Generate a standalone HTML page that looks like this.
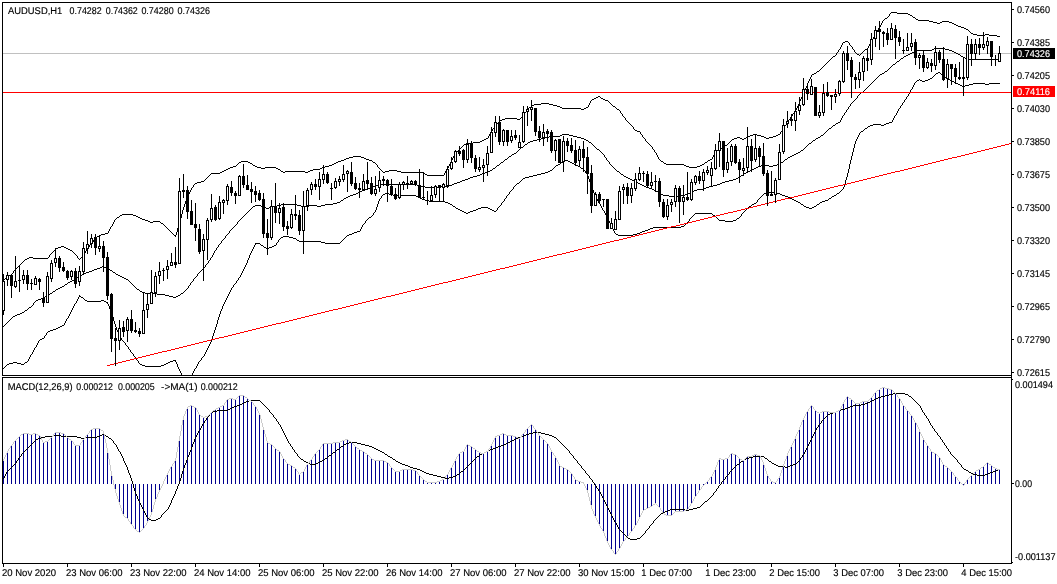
<!DOCTYPE html>
<html><head><meta charset="utf-8"><title>AUDUSD,H1</title>
<style>
html,body{margin:0;padding:0;background:#fff;}
#c{position:relative;width:1057px;height:584px;overflow:hidden;background:#fff;font-family:"Liberation Sans",sans-serif;}
#c svg{position:absolute;left:0;top:0;}
#tx text{font-family:"Liberation Sans",sans-serif;font-size:9.8px;text-rendering:geometricPrecision;fill:#000;white-space:pre;stroke:#000;stroke-width:0.15px;}
#tx text.w{fill:#fff;stroke:#fff;}
</style></head><body>
<div id="c">
<svg width="1057" height="584" viewBox="0 0 1057 584" shape-rendering="crispEdges">
<defs><clipPath id="cm"><rect x="3" y="3" width="1008" height="372"/></clipPath><clipPath id="cd"><rect x="3" y="378" width="1008" height="185"/></clipPath></defs>
<rect x="3" y="53" width="1008" height="1" fill="#c0c0c0"/>
<path d="M891 12.5h6M897 13.5h11M908 14.5h2M910 15.5h2M913 17.5h2M885 18.5h2M916 19.5h2M918 20.5h11M929 21.5h4M942 21.5h7M933 22.5h4M940 22.5h2M949 22.5h3M937 23.5h3M952 23.5h2M954 24.5h2M956 25.5h2M958 26.5h3M961 27.5h3M964 28.5h2M966 29.5h2M971 33.5h2M973 34.5h4M985 34.5h4M977 35.5h8M989 35.5h8M997 36.5h3M845 41.5h3M843 42.5h2M865 49.5h2M857 54.5h2M833 56.5h2M817 71.5h2M814 73.5h2M812 74.5h2M598 96.5h2M596 97.5h2M594 98.5h2M601 98.5h2M592 99.5h2M603 99.5h2M605 100.5h3M541 103.5h8M534 104.5h7M549 104.5h4M532 105.5h2M553 105.5h4M557 106.5h3M613 106.5h2M529 107.5h2M560 107.5h2M586 107.5h2M562 108.5h19M584 108.5h2M581 109.5h3M617 109.5h2M505 118.5h12M502 119.5h3M517 119.5h3M500 120.5h2M635 130.5h2M637 131.5h3M753 134.5h4M778 134.5h2M750 135.5h3M757 135.5h4M776 135.5h2M748 136.5h2M761 136.5h3M773 136.5h3M737 137.5h3M746 137.5h2M764 137.5h2M769 137.5h4M486 138.5h2M734 138.5h3M740 138.5h2M744 138.5h2M766 138.5h3M484 139.5h2M732 139.5h2M742 139.5h2M482 140.5h2M480 141.5h2M473 142.5h7M466 143.5h7M464 144.5h2M725 145.5h2M721 148.5h2M717 150.5h3M715 151.5h2M353 156.5h8M349 157.5h4M361 157.5h3M346 158.5h3M364 158.5h2M344 159.5h2M366 159.5h3M710 159.5h2M341 160.5h3M369 160.5h3M708 160.5h2M241 161.5h7M338 161.5h3M661 161.5h2M239 162.5h2M248 162.5h2M336 162.5h2M373 162.5h2M705 162.5h2M250 163.5h2M334 163.5h2M664 163.5h2M332 164.5h2M666 164.5h18M702 164.5h2M253 165.5h2M329 165.5h3M684 165.5h2M700 165.5h2M233 166.5h3M255 166.5h2M325 166.5h4M686 166.5h3M697 166.5h3M230 167.5h3M257 167.5h4M265 167.5h11M322 167.5h3M689 167.5h8M228 168.5h2M261 168.5h4M276 168.5h2M320 168.5h2M226 169.5h2M278 169.5h2M313 169.5h7M224 170.5h2M310 170.5h3M389 170.5h8M222 171.5h2M281 171.5h2M285 171.5h20M308 171.5h2M385 171.5h4M397 171.5h4M220 172.5h2M283 172.5h2M305 172.5h3M383 172.5h2M401 172.5h23M211 173.5h9M425 174.5h2M427 175.5h17M201 181.5h3M197 182.5h4M195 183.5h2M122 214.5h11M120 215.5h2M133 215.5h3M136 216.5h2M117 217.5h2M138 217.5h2M140 218.5h2M142 219.5h3M145 220.5h3M148 221.5h2M153 221.5h7M150 222.5h3M161 223.5h2M105 233.5h3M101 234.5h4M99 235.5h2M174 235.5h2M97 236.5h2M61 246.5h3M58 247.5h3M64 247.5h2M56 248.5h2M66 248.5h2M68 249.5h2M70 250.5h2M29 257.5h4M27 258.5h2M33 258.5h15M25 259.5h2M9 275.5h2M5 278.5h2M3.5 280v1M4.5 279v1M7.5 277v1M8.5 276v1M11.5 274v1M12.5 273v1M13.5 271v2M14.5 270v1M15.5 269v1M16.5 268v1M17.5 267v1M18.5 266v1M19.5 265v1M20.5 264v1M21.5 263v1M22.5 262v1M23.5 261v1M24.5 260v1M48.5 257v1M49.5 255v2M50.5 254v1M51.5 253v1M52.5 252v1M53.5 251v1M54.5 250v1M55.5 249v1M72.5 251v1M73.5 252v1M74.5 253v1M75.5 254v1M76.5 255v1M77.5 256v2M78.5 258v1M79.5 259v1M80.5 258v1M81.5 257v1M82.5 256v1M83.5 255v1M84.5 253v2M85.5 251v2M86.5 249v2M87.5 248v1M88.5 247v1M89.5 245v2M90.5 244v1M91.5 243v1M92.5 242v1M93.5 240v2M94.5 239v1M95.5 238v1M96.5 237v1M108.5 231v2M109.5 229v2M110.5 227v2M111.5 226v1M112.5 224v2M113.5 222v2M114.5 220v2M115.5 219v1M116.5 218v1M119.5 216v1M160.5 222v1M163.5 224v1M164.5 225v1M165.5 226v1M166.5 227v1M167.5 228v1M168.5 229v1M169.5 230v1M170.5 231v1M171.5 232v1M172.5 233v1M173.5 234v1M175.5 236v1M176.5 232v3M177.5 228v4M178.5 225v3M179.5 222v3M180.5 218v4M181.5 214v4M182.5 210v4M183.5 207v3M184.5 204v3M185.5 201v3M186.5 198v3M187.5 196v2M188.5 194v2M189.5 192v2M190.5 190v2M191.5 188v2M192.5 187v1M193.5 185v2M194.5 184v1M204.5 180v1M205.5 179v1M206.5 178v1M207.5 177v1M208.5 176v1M209.5 175v1M210.5 174v1M236.5 165v1M237.5 164v1M238.5 163v1M252.5 164v1M280.5 170v1M372.5 161v1M375.5 163v1M376.5 164v1M377.5 165v2M378.5 167v1M379.5 168v1M380.5 169v1M381.5 170v1M382.5 171v1M424.5 173v1M444.5 173v2M445.5 171v2M446.5 169v2M447.5 168v1M448.5 166v2M449.5 164v2M450.5 162v2M451.5 160v2M452.5 158v2M453.5 156v2M454.5 154v2M455.5 153v1M456.5 152v1M457.5 151v1M458.5 150v1M459.5 149v1M460.5 148v1M461.5 147v1M462.5 146v1M463.5 145v1M488.5 136v2M489.5 134v2M490.5 132v2M491.5 131v1M492.5 129v2M493.5 128v1M494.5 126v2M495.5 125v1M496.5 124v1M497.5 123v1M498.5 122v1M499.5 121v1M520.5 118v1M521.5 117v1M522.5 116v1M523.5 115v1M524.5 113v2M525.5 112v1M526.5 110v2M527.5 109v1M528.5 108v1M531.5 106v1M588.5 105v2M589.5 103v2M590.5 101v2M591.5 100v1M600.5 97v1M608.5 101v1M609.5 102v1M610.5 103v1M611.5 104v1M612.5 105v1M615.5 107v1M616.5 108v1M619.5 110v1M620.5 111v2M621.5 113v1M622.5 114v2M623.5 116v1M624.5 117v1M625.5 118v2M626.5 120v1M627.5 121v1M628.5 122v1M629.5 123v1M630.5 124v1M631.5 125v1M632.5 126v1M633.5 127v2M634.5 129v1M640.5 132v2M641.5 134v1M642.5 135v2M643.5 137v1M644.5 138v1M645.5 139v2M646.5 141v1M647.5 142v1M648.5 143v1M649.5 144v1M650.5 145v1M651.5 146v1M652.5 147v2M653.5 149v1M654.5 150v2M655.5 152v1M656.5 153v2M657.5 155v2M658.5 157v2M659.5 159v1M660.5 160v1M663.5 162v1M704.5 163v1M707.5 161v1M712.5 157v2M713.5 155v2M714.5 153v2M715.5 152v1M720.5 149v1M723.5 147v1M724.5 146v1M727.5 144v1M728.5 143v1M729.5 142v1M730.5 141v1M731.5 140v1M780.5 132v2M781.5 131v1M782.5 129v2M783.5 128v1M784.5 126v2M785.5 125v1M786.5 123v2M787.5 122v1M788.5 120v2M789.5 119v1M790.5 117v2M791.5 116v1M792.5 114v2M793.5 113v1M794.5 111v2M795.5 110v1M796.5 108v2M797.5 106v2M798.5 104v2M799.5 101v3M800.5 99v2M801.5 97v2M802.5 95v2M803.5 92v3M804.5 90v2M805.5 88v2M806.5 86v2M807.5 83v3M808.5 81v2M809.5 79v2M810.5 77v2M811.5 75v2M816.5 72v1M819.5 70v1M820.5 69v1M821.5 68v1M822.5 67v1M823.5 66v1M824.5 65v1M825.5 64v1M826.5 63v1M827.5 62v1M828.5 61v1M829.5 60v1M830.5 59v1M831.5 58v1M832.5 57v1M835.5 55v1M836.5 53v2M837.5 52v1M838.5 50v2M839.5 49v1M840.5 47v2M841.5 45v2M842.5 43v2M848.5 42v1M849.5 43v2M850.5 45v1M851.5 46v1M852.5 47v2M853.5 49v1M854.5 50v2M855.5 52v1M856.5 53v1M859.5 55v1M860.5 54v1M861.5 53v1M862.5 52v1M863.5 51v1M864.5 50v1M867.5 48v1M868.5 46v2M869.5 44v2M870.5 42v2M871.5 41v1M872.5 39v2M873.5 37v2M874.5 35v2M875.5 34v1M876.5 32v2M877.5 30v2M878.5 28v2M879.5 27v1M880.5 25v2M881.5 23v2M882.5 21v2M883.5 20v1M884.5 19v1M887.5 17v1M888.5 16v1M889.5 14v2M890.5 13v1M912.5 16v1M915.5 18v1M968.5 30v1M969.5 31v1M970.5 32v1" stroke="#000" stroke-width="1" fill="none"/>
<path d="M934 48.5h11M932 49.5h2M945 49.5h4M917 50.5h15M949 50.5h3M914 51.5h3M952 51.5h2M912 52.5h2M954 52.5h2M910 53.5h2M956 53.5h2M908 54.5h2M958 54.5h2M906 55.5h2M904 56.5h2M961 56.5h2M963 57.5h2M901 58.5h2M965 58.5h4M969 59.5h31M897 61.5h2M893 64.5h2M885 71.5h2M882 73.5h2M880 74.5h2M861 92.5h2M838 122.5h2M836 123.5h2M833 125.5h2M829 128.5h2M562 134.5h7M560 135.5h2M569 135.5h4M821 135.5h2M549 136.5h11M573 136.5h4M545 137.5h4M577 137.5h4M818 137.5h2M541 138.5h4M581 138.5h3M816 138.5h2M537 139.5h4M584 139.5h2M533 140.5h4M586 140.5h2M813 140.5h2M530 141.5h3M528 142.5h2M589 142.5h2M809 143.5h2M525 144.5h2M521 147.5h2M597 149.5h2M801 150.5h2M798 152.5h2M514 153.5h2M796 153.5h2M512 154.5h2M794 154.5h2M792 155.5h2M509 156.5h2M790 156.5h2M788 157.5h2M505 159.5h2M785 159.5h2M501 162.5h2M781 162.5h2M777 164.5h3M497 165.5h2M761 165.5h8M773 165.5h4M758 166.5h3M769 166.5h4M756 167.5h2M493 168.5h2M754 168.5h2M752 169.5h2M490 170.5h2M750 170.5h2M488 171.5h2M617 171.5h2M748 171.5h2M485 172.5h3M746 172.5h2M482 173.5h3M744 173.5h2M480 174.5h2M621 174.5h2M477 175.5h3M741 175.5h2M473 176.5h4M624 176.5h2M470 177.5h3M626 177.5h2M738 177.5h2M468 178.5h2M628 178.5h2M736 178.5h2M465 179.5h3M630 179.5h2M733 179.5h3M462 180.5h3M632 180.5h2M729 180.5h4M460 181.5h2M634 181.5h2M725 181.5h4M457 182.5h3M636 182.5h2M722 182.5h3M454 183.5h3M638 183.5h2M720 183.5h2M378 184.5h39M452 184.5h2M640 184.5h2M717 184.5h3M376 185.5h2M417 185.5h4M449 185.5h3M642 185.5h2M713 185.5h4M373 186.5h3M421 186.5h4M441 186.5h8M644 186.5h2M709 186.5h4M370 187.5h3M425 187.5h16M646 187.5h3M706 187.5h3M368 188.5h2M649 188.5h3M704 188.5h2M365 189.5h3M652 189.5h2M697 189.5h7M362 190.5h3M654 190.5h2M694 190.5h3M360 191.5h2M656 191.5h2M692 191.5h2M358 192.5h2M658 192.5h2M690 192.5h2M356 193.5h2M688 193.5h2M353 194.5h3M661 194.5h2M685 194.5h3M350 195.5h3M663 195.5h6M681 195.5h4M348 196.5h2M669 196.5h12M346 197.5h2M344 198.5h2M341 200.5h2M337 202.5h3M333 203.5h4M281 204.5h16M325 204.5h8M255 205.5h6M277 205.5h4M297 205.5h4M309 205.5h8M321 205.5h4M253 206.5h2M261 206.5h3M273 206.5h4M301 206.5h8M317 206.5h4M264 207.5h2M269 207.5h4M266 208.5h3M102 266.5h2M100 267.5h2M104 267.5h2M97 268.5h3M106 268.5h2M94 269.5h3M108 269.5h2M92 270.5h2M110 270.5h2M89 271.5h3M86 272.5h3M113 272.5h2M84 273.5h2M82 274.5h2M116 274.5h2M80 275.5h2M118 275.5h2M120 276.5h2M77 277.5h2M122 277.5h2M124 278.5h2M74 279.5h2M126 279.5h2M72 280.5h2M70 281.5h2M68 282.5h2M65 284.5h2M62 286.5h2M60 287.5h2M58 288.5h2M56 289.5h2M137 289.5h2M53 291.5h2M140 291.5h2M142 292.5h3M50 293.5h2M145 293.5h12M181 293.5h2M48 294.5h2M157 294.5h8M165 295.5h4M178 295.5h2M45 296.5h2M169 296.5h4M176 296.5h2M173 297.5h3M41 298.5h3M38 299.5h3M36 300.5h2M29 307.5h2M25 310.5h2M22 312.5h2M20 313.5h2M17 314.5h3M15 315.5h2M13 316.5h2M3.5 326v1M4.5 325v1M5.5 324v1M6.5 323v1M7.5 322v1M8.5 321v1M9.5 320v1M10.5 319v1M11.5 318v1M12.5 317v1M24.5 311v1M27.5 309v1M28.5 308v1M31.5 306v1M32.5 305v1M33.5 303v2M34.5 302v1M35.5 301v1M44.5 297v1M47.5 295v1M52.5 292v1M55.5 290v1M64.5 285v1M67.5 283v1M76.5 278v1M79.5 276v1M112.5 271v1M115.5 273v1M128.5 280v1M129.5 281v1M130.5 282v1M131.5 283v1M132.5 284v1M133.5 285v1M134.5 286v1M135.5 287v1M136.5 288v1M139.5 290v1M180.5 294v1M183.5 292v1M184.5 291v1M185.5 290v1M186.5 289v1M187.5 288v1M188.5 286v2M189.5 285v1M190.5 283v2M191.5 282v1M192.5 281v1M193.5 279v2M194.5 278v1M195.5 277v1M196.5 276v1M197.5 274v2M198.5 273v1M199.5 272v1M200.5 271v1M201.5 270v1M202.5 269v1M203.5 268v1M204.5 267v1M205.5 265v2M206.5 264v1M207.5 263v1M208.5 261v2M209.5 260v1M210.5 258v2M211.5 257v1M212.5 255v2M213.5 253v2M214.5 251v2M215.5 250v1M216.5 248v2M217.5 247v1M218.5 245v2M219.5 244v1M220.5 243v1M221.5 241v2M222.5 240v1M223.5 239v1M224.5 238v1M225.5 236v2M226.5 235v1M227.5 234v1M228.5 233v1M229.5 231v2M230.5 230v1M231.5 229v1M232.5 228v1M233.5 227v1M234.5 226v1M235.5 225v1M236.5 224v1M237.5 222v2M238.5 221v1M239.5 220v1M240.5 219v1M241.5 218v1M242.5 217v1M243.5 216v1M244.5 215v1M245.5 214v1M246.5 213v1M247.5 212v1M248.5 211v1M249.5 210v1M250.5 209v1M251.5 208v1M252.5 207v1M340.5 201v1M343.5 199v1M492.5 169v1M495.5 167v1M496.5 166v1M499.5 164v1M500.5 163v1M503.5 161v1M504.5 160v1M507.5 158v1M508.5 157v1M511.5 155v1M516.5 152v1M517.5 151v1M518.5 150v1M519.5 149v1M520.5 148v1M523.5 146v1M524.5 145v1M527.5 143v1M588.5 141v1M591.5 143v1M592.5 144v1M593.5 145v1M594.5 146v1M595.5 147v1M596.5 148v1M599.5 150v1M600.5 151v1M601.5 152v1M602.5 153v1M603.5 154v1M604.5 155v2M605.5 157v1M606.5 158v2M607.5 160v1M608.5 161v1M609.5 162v2M610.5 164v1M611.5 165v1M612.5 166v1M613.5 167v1M614.5 168v1M615.5 169v1M616.5 170v1M619.5 172v1M620.5 173v1M623.5 175v1M660.5 193v1M740.5 176v1M743.5 174v1M780.5 163v1M783.5 161v1M784.5 160v1M787.5 158v1M800.5 151v1M803.5 149v1M804.5 148v1M805.5 147v1M806.5 146v1M807.5 145v1M808.5 144v1M811.5 142v1M812.5 141v1M815.5 139v1M820.5 136v1M823.5 134v1M824.5 133v1M825.5 132v1M826.5 131v1M827.5 130v1M828.5 129v1M831.5 127v1M832.5 126v1M835.5 124v1M840.5 120v2M841.5 118v2M842.5 116v2M843.5 115v1M844.5 113v2M845.5 112v1M846.5 110v2M847.5 109v1M848.5 107v2M849.5 106v1M850.5 104v2M851.5 103v1M852.5 102v1M853.5 101v1M854.5 100v1M855.5 99v1M856.5 98v1M857.5 96v2M858.5 95v1M859.5 94v1M860.5 93v1M863.5 91v1M864.5 90v1M865.5 89v1M866.5 88v1M867.5 87v1M868.5 86v1M869.5 85v1M870.5 84v1M871.5 83v1M872.5 82v1M873.5 81v1M874.5 80v1M875.5 79v1M876.5 78v1M877.5 77v1M878.5 76v1M879.5 75v1M884.5 72v1M887.5 70v1M888.5 69v1M889.5 68v1M890.5 67v1M891.5 66v1M892.5 65v1M895.5 63v1M896.5 62v1M899.5 60v1M900.5 59v1M903.5 57v1M960.5 55v1" stroke="#000" stroke-width="1" fill="none"/>
<path d="M938 72.5h2M936 73.5h2M944 77.5h2M930 78.5h2M946 78.5h2M928 79.5h2M948 79.5h2M917 80.5h2M920 80.5h2M925 80.5h3M950 80.5h2M922 81.5h3M952 81.5h2M954 82.5h2M956 83.5h2M973 83.5h12M989 83.5h11M958 84.5h2M969 84.5h4M985 84.5h4M960 85.5h2M965 85.5h4M962 86.5h3M889 122.5h3M886 123.5h3M873 124.5h8M884 124.5h2M870 125.5h3M881 125.5h3M868 126.5h2M865 128.5h2M861 131.5h2M565 160.5h3M563 161.5h2M568 161.5h2M561 162.5h2M570 162.5h2M572 163.5h2M558 164.5h2M574 164.5h2M556 165.5h2M576 165.5h2M578 166.5h2M581 168.5h2M550 170.5h2M548 171.5h2M545 172.5h3M541 173.5h4M537 174.5h4M533 175.5h4M529 176.5h4M525 177.5h4M523 178.5h2M517 183.5h2M766 192.5h11M385 193.5h4M764 193.5h2M777 193.5h3M837 193.5h2M383 194.5h2M389 194.5h4M780 194.5h2M393 195.5h23M782 195.5h3M834 195.5h2M416 196.5h2M785 196.5h3M832 196.5h2M418 197.5h2M788 197.5h2M420 198.5h2M790 198.5h2M829 198.5h2M422 199.5h3M792 199.5h2M425 200.5h4M794 200.5h2M825 200.5h3M429 201.5h16M796 201.5h2M822 201.5h3M445 202.5h3M798 202.5h2M820 202.5h2M448 203.5h2M754 203.5h2M450 204.5h2M752 204.5h2M801 204.5h2M817 204.5h2M453 206.5h2M749 206.5h2M804 206.5h2M814 206.5h2M481 207.5h7M806 207.5h3M812 207.5h2M456 208.5h2M478 208.5h3M488 208.5h2M809 208.5h3M458 209.5h2M476 209.5h2M490 209.5h2M460 210.5h2M473 210.5h3M492 210.5h2M462 211.5h2M470 211.5h3M494 211.5h2M464 212.5h2M468 212.5h2M466 213.5h2M695 213.5h17M713 215.5h2M369 217.5h2M737 218.5h2M719 220.5h6M733 220.5h3M725 221.5h8M681 226.5h3M653 227.5h28M650 228.5h3M648 229.5h2M645 230.5h3M357 231.5h3M642 231.5h3M354 232.5h3M640 232.5h2M352 233.5h2M637 233.5h3M349 234.5h3M616 234.5h2M633 234.5h4M347 235.5h2M618 235.5h15M283 236.5h6M281 237.5h2M289 237.5h4M293 238.5h3M297 240.5h2M299 241.5h22M321 242.5h4M255 243.5h5M325 243.5h15M261 245.5h2M274 245.5h2M272 246.5h2M264 247.5h2M269 247.5h3M266 248.5h3M79 296.5h2M81 297.5h2M85 300.5h2M101 300.5h3M87 301.5h14M104 301.5h2M106 302.5h2M62 325.5h2M60 326.5h2M58 327.5h2M56 328.5h2M53 329.5h3M50 330.5h3M48 331.5h2M42 338.5h2M40 339.5h2M173 360.5h3M170 361.5h3M13 362.5h4M25 362.5h2M168 362.5h2M9 363.5h4M17 363.5h4M166 363.5h2M7 364.5h2M21 364.5h3M140 364.5h2M164 364.5h2M142 365.5h3M161 365.5h3M145 366.5h16M3.5 368v1M4.5 367v1M5.5 366v1M6.5 365v1M24.5 363v1M27.5 361v1M28.5 359v2M29.5 357v2M30.5 355v2M31.5 354v1M32.5 352v2M33.5 350v2M34.5 348v2M35.5 347v1M36.5 345v2M37.5 343v2M38.5 341v2M39.5 340v1M44.5 336v2M45.5 335v1M46.5 333v2M47.5 332v1M64.5 323v2M65.5 321v2M66.5 319v2M67.5 318v1M68.5 316v2M69.5 314v2M70.5 312v2M71.5 310v2M72.5 308v2M73.5 306v2M74.5 304v2M75.5 303v1M76.5 301v2M77.5 299v2M78.5 297v2M79.5 295v1M83.5 298v1M84.5 299v1M107.5 303v1M108.5 304v2M109.5 306v3M110.5 309v2M111.5 311v3M112.5 314v3M113.5 317v4M114.5 321v3M115.5 324v3M116.5 327v3M117.5 330v2M118.5 332v3M119.5 335v2M120.5 337v1M121.5 338v2M122.5 340v1M123.5 341v1M124.5 342v1M125.5 343v2M126.5 345v1M127.5 346v1M128.5 347v2M129.5 349v1M130.5 350v2M131.5 352v1M132.5 353v1M133.5 354v2M134.5 356v1M135.5 357v1M136.5 358v2M137.5 360v1M138.5 361v2M139.5 363v1M175.5 361v1M176.5 362v2M177.5 364v3M178.5 367v2M179.5 369v2M180.5 371v2M181.5 373v2M192.5 373v2M193.5 371v2M194.5 369v2M195.5 368v1M196.5 366v2M197.5 364v2M198.5 362v2M199.5 361v1M200.5 360v1M201.5 358v2M202.5 357v1M203.5 356v1M204.5 354v2M205.5 352v2M206.5 350v2M207.5 348v2M208.5 346v2M209.5 344v2M210.5 342v2M211.5 339v3M212.5 336v3M213.5 333v3M214.5 330v3M215.5 327v3M216.5 324v3M217.5 320v4M218.5 317v3M219.5 314v3M220.5 311v3M221.5 309v2M222.5 306v3M223.5 304v2M224.5 302v2M225.5 300v2M226.5 298v2M227.5 296v2M228.5 294v2M229.5 292v2M230.5 290v2M231.5 288v2M232.5 287v1M233.5 285v2M234.5 284v1M235.5 283v1M236.5 281v2M237.5 280v1M238.5 278v2M239.5 277v1M240.5 275v2M241.5 273v2M242.5 271v2M243.5 269v2M244.5 267v2M245.5 265v2M246.5 263v2M247.5 260v3M248.5 258v2M249.5 255v3M250.5 253v2M251.5 251v2M252.5 249v2M253.5 247v2M254.5 245v2M255.5 244v1M260.5 244v1M263.5 246v1M276.5 243v2M277.5 242v1M278.5 240v2M279.5 239v1M280.5 238v1M296.5 239v1M340.5 242v1M341.5 241v1M342.5 240v1M343.5 239v1M344.5 238v1M345.5 237v1M346.5 236v1M360.5 229v2M361.5 227v2M362.5 225v2M363.5 224v1M364.5 223v1M365.5 221v2M366.5 220v1M367.5 219v1M368.5 218v1M371.5 216v1M372.5 215v1M373.5 213v2M374.5 212v1M375.5 210v2M376.5 207v3M377.5 204v3M378.5 201v3M379.5 199v2M380.5 198v1M381.5 196v2M382.5 195v1M452.5 205v1M455.5 207v1M496.5 210v1M497.5 208v2M498.5 207v1M499.5 206v1M500.5 205v1M501.5 203v2M502.5 202v1M503.5 201v1M504.5 199v2M505.5 198v1M506.5 196v2M507.5 195v1M508.5 194v1M509.5 192v2M510.5 191v1M511.5 190v1M512.5 189v1M513.5 187v2M514.5 186v1M515.5 185v1M516.5 184v1M519.5 182v1M520.5 181v1M521.5 180v1M522.5 179v1M552.5 169v1M553.5 168v1M554.5 167v1M555.5 166v1M560.5 163v1M580.5 167v1M583.5 169v1M584.5 170v1M585.5 171v2M586.5 173v1M587.5 174v2M588.5 176v3M589.5 179v3M590.5 182v3M591.5 185v3M592.5 188v2M593.5 190v3M594.5 193v2M595.5 195v2M596.5 197v2M597.5 199v2M598.5 201v2M599.5 203v1M600.5 204v2M601.5 206v2M602.5 208v2M603.5 210v1M604.5 211v2M605.5 213v2M606.5 215v2M607.5 217v2M608.5 219v2M609.5 221v2M610.5 223v2M611.5 225v2M612.5 227v2M613.5 229v2M614.5 231v2M615.5 233v1M684.5 225v1M685.5 224v1M686.5 223v1M687.5 222v1M688.5 221v1M689.5 219v2M690.5 218v1M691.5 217v1M692.5 216v1M693.5 215v1M694.5 214v1M712.5 214v1M715.5 216v1M716.5 217v1M717.5 218v1M718.5 219v1M736.5 219v1M739.5 217v1M740.5 216v1M741.5 214v2M742.5 213v1M743.5 212v1M744.5 211v1M745.5 210v1M746.5 209v1M747.5 208v1M748.5 207v1M751.5 205v1M756.5 202v1M757.5 200v2M758.5 199v1M759.5 198v1M760.5 197v1M761.5 196v1M762.5 195v1M763.5 194v1M800.5 203v1M803.5 205v1M816.5 205v1M819.5 203v1M828.5 199v1M831.5 197v1M836.5 194v1M839.5 192v1M840.5 191v1M841.5 190v1M842.5 189v1M843.5 187v2M844.5 184v3M845.5 180v4M846.5 177v3M847.5 173v4M848.5 169v4M849.5 164v5M850.5 160v4M851.5 156v4M852.5 152v4M853.5 148v4M854.5 144v4M855.5 141v3M856.5 139v2M857.5 137v2M858.5 135v2M859.5 133v2M860.5 132v1M863.5 130v1M864.5 129v1M867.5 127v1M892.5 120v2M893.5 118v2M894.5 116v2M895.5 115v1M896.5 113v2M897.5 111v2M898.5 109v2M899.5 108v1M900.5 106v2M901.5 105v1M902.5 103v2M903.5 102v1M904.5 100v2M905.5 99v1M906.5 97v2M907.5 96v1M908.5 94v2M909.5 92v2M910.5 90v2M911.5 89v1M912.5 87v2M913.5 85v2M914.5 83v2M915.5 82v1M916.5 81v1M919.5 79v1M932.5 77v1M933.5 76v1M934.5 75v1M935.5 74v1M940.5 73v1M941.5 74v1M942.5 75v1M943.5 76v1" stroke="#000" stroke-width="1" fill="none"/>
<rect x="3" y="92" width="1008" height="1" fill="#ff0000"/>
<path d="M1009 143.5h2M1005 144.5h4M1001 145.5h4M997 146.5h4M993 147.5h4M989 148.5h4M985 149.5h4M981 150.5h4M977 151.5h4M973 152.5h4M969 153.5h4M965 154.5h4M961 155.5h4M957 156.5h4M952 157.5h5M948 158.5h4M944 159.5h4M940 160.5h4M936 161.5h4M932 162.5h4M928 163.5h4M924 164.5h4M920 165.5h4M916 166.5h4M912 167.5h4M908 168.5h4M904 169.5h4M900 170.5h4M895 171.5h5M891 172.5h4M887 173.5h4M883 174.5h4M879 175.5h4M875 176.5h4M871 177.5h4M867 178.5h4M863 179.5h4M859 180.5h4M855 181.5h4M851 182.5h4M847 183.5h4M843 184.5h4M838 185.5h5M834 186.5h4M830 187.5h4M826 188.5h4M822 189.5h4M818 190.5h4M814 191.5h4M810 192.5h4M806 193.5h4M802 194.5h4M798 195.5h4M794 196.5h4M790 197.5h4M785 198.5h5M781 199.5h4M777 200.5h4M773 201.5h4M769 202.5h4M765 203.5h4M761 204.5h4M757 205.5h4M753 206.5h4M749 207.5h4M745 208.5h4M741 209.5h4M737 210.5h4M733 211.5h4M728 212.5h5M724 213.5h4M720 214.5h4M716 215.5h4M712 216.5h4M708 217.5h4M704 218.5h4M700 219.5h4M696 220.5h4M692 221.5h4M688 222.5h4M684 223.5h4M680 224.5h4M676 225.5h4M671 226.5h5M667 227.5h4M663 228.5h4M659 229.5h4M655 230.5h4M651 231.5h4M647 232.5h4M643 233.5h4M639 234.5h4M635 235.5h4M631 236.5h4M627 237.5h4M623 238.5h4M619 239.5h4M614 240.5h5M610 241.5h4M606 242.5h4M602 243.5h4M598 244.5h4M594 245.5h4M590 246.5h4M586 247.5h4M582 248.5h4M578 249.5h4M574 250.5h4M570 251.5h4M566 252.5h4M562 253.5h4M557 254.5h5M553 255.5h4M549 256.5h4M545 257.5h4M541 258.5h4M537 259.5h4M533 260.5h4M529 261.5h4M525 262.5h4M521 263.5h4M517 264.5h4M513 265.5h4M509 266.5h4M505 267.5h4M500 268.5h5M496 269.5h4M492 270.5h4M488 271.5h4M484 272.5h4M480 273.5h4M476 274.5h4M472 275.5h4M468 276.5h4M464 277.5h4M460 278.5h4M456 279.5h4M452 280.5h4M448 281.5h4M443 282.5h5M439 283.5h4M435 284.5h4M431 285.5h4M427 286.5h4M423 287.5h4M419 288.5h4M415 289.5h4M411 290.5h4M407 291.5h4M403 292.5h4M399 293.5h4M395 294.5h4M391 295.5h4M386 296.5h5M382 297.5h4M378 298.5h4M374 299.5h4M370 300.5h4M366 301.5h4M362 302.5h4M358 303.5h4M354 304.5h4M350 305.5h4M346 306.5h4M342 307.5h4M338 308.5h4M333 309.5h5M329 310.5h4M325 311.5h4M321 312.5h4M317 313.5h4M313 314.5h4M309 315.5h4M305 316.5h4M301 317.5h4M297 318.5h4M293 319.5h4M289 320.5h4M285 321.5h4M281 322.5h4M276 323.5h5M272 324.5h4M268 325.5h4M264 326.5h4M260 327.5h4M256 328.5h4M252 329.5h4M248 330.5h4M244 331.5h4M240 332.5h4M236 333.5h4M232 334.5h4M228 335.5h4M224 336.5h4M219 337.5h5M215 338.5h4M211 339.5h4M207 340.5h4M203 341.5h4M199 342.5h4M195 343.5h4M191 344.5h4M187 345.5h4M183 346.5h4M179 347.5h4M175 348.5h4M171 349.5h4M167 350.5h4M162 351.5h5M158 352.5h4M154 353.5h4M150 354.5h4M146 355.5h4M142 356.5h4M138 357.5h4M134 358.5h4M130 359.5h4M126 360.5h4M122 361.5h4M118 362.5h4M114 363.5h4M110 364.5h4M107 365.5h3" stroke="#ff0000" stroke-width="1" fill="none"/>
<rect x="3" y="274" width="1" height="41" fill="#000"/>
<rect x="2" y="281" width="3" height="30" fill="#000"/>
<rect x="3" y="282" width="1" height="28" fill="#fff"/>
<rect x="7" y="272" width="1" height="14" fill="#000"/>
<rect x="6" y="275" width="3" height="5" fill="#000"/>
<rect x="7" y="276" width="1" height="3" fill="#fff"/>
<rect x="11" y="274" width="1" height="24" fill="#000"/>
<rect x="10" y="275" width="3" height="11" fill="#000"/>
<rect x="15" y="256" width="1" height="32" fill="#000"/>
<rect x="14" y="281" width="3" height="6" fill="#000"/>
<rect x="15" y="282" width="1" height="4" fill="#fff"/>
<rect x="19" y="265" width="1" height="27" fill="#000"/>
<rect x="18" y="280" width="3" height="1" fill="#000"/>
<rect x="23" y="270" width="1" height="14" fill="#000"/>
<rect x="22" y="275" width="3" height="5" fill="#000"/>
<rect x="23" y="276" width="1" height="3" fill="#fff"/>
<rect x="27" y="270" width="1" height="20" fill="#000"/>
<rect x="26" y="275" width="3" height="9" fill="#000"/>
<rect x="31" y="279" width="1" height="11" fill="#000"/>
<rect x="30" y="283" width="3" height="1" fill="#000"/>
<rect x="35" y="276" width="1" height="9" fill="#000"/>
<rect x="34" y="278" width="3" height="7" fill="#000"/>
<rect x="35" y="279" width="1" height="5" fill="#fff"/>
<rect x="39" y="278" width="1" height="12" fill="#000"/>
<rect x="38" y="279" width="3" height="3" fill="#000"/>
<rect x="43" y="292" width="1" height="15" fill="#000"/>
<rect x="42" y="298" width="3" height="5" fill="#000"/>
<rect x="47" y="272" width="1" height="31" fill="#000"/>
<rect x="46" y="276" width="3" height="27" fill="#000"/>
<rect x="47" y="277" width="1" height="25" fill="#fff"/>
<rect x="51" y="260" width="1" height="22" fill="#000"/>
<rect x="50" y="263" width="3" height="16" fill="#000"/>
<rect x="51" y="264" width="1" height="14" fill="#fff"/>
<rect x="55" y="248" width="1" height="19" fill="#000"/>
<rect x="54" y="258" width="3" height="5" fill="#000"/>
<rect x="55" y="259" width="1" height="3" fill="#fff"/>
<rect x="59" y="256" width="1" height="16" fill="#000"/>
<rect x="58" y="258" width="3" height="10" fill="#000"/>
<rect x="63" y="262" width="1" height="10" fill="#000"/>
<rect x="62" y="267" width="3" height="4" fill="#000"/>
<rect x="67" y="270" width="1" height="10" fill="#000"/>
<rect x="66" y="271" width="3" height="7" fill="#000"/>
<rect x="71" y="270" width="1" height="10" fill="#000"/>
<rect x="70" y="271" width="3" height="6" fill="#000"/>
<rect x="71" y="272" width="1" height="4" fill="#fff"/>
<rect x="75" y="268" width="1" height="20" fill="#000"/>
<rect x="74" y="271" width="3" height="13" fill="#000"/>
<rect x="79" y="266" width="1" height="20" fill="#000"/>
<rect x="78" y="271" width="3" height="11" fill="#000"/>
<rect x="79" y="272" width="1" height="9" fill="#fff"/>
<rect x="83" y="242" width="1" height="32" fill="#000"/>
<rect x="82" y="248" width="3" height="24" fill="#000"/>
<rect x="83" y="249" width="1" height="22" fill="#fff"/>
<rect x="87" y="231" width="1" height="23" fill="#000"/>
<rect x="86" y="244" width="3" height="5" fill="#000"/>
<rect x="87" y="245" width="1" height="3" fill="#fff"/>
<rect x="91" y="234" width="1" height="14" fill="#000"/>
<rect x="90" y="238" width="3" height="6" fill="#000"/>
<rect x="91" y="239" width="1" height="4" fill="#fff"/>
<rect x="95" y="234" width="1" height="21" fill="#000"/>
<rect x="94" y="237" width="3" height="11" fill="#000"/>
<rect x="99" y="236" width="1" height="16" fill="#000"/>
<rect x="98" y="246" width="3" height="3" fill="#000"/>
<rect x="99" y="247" width="1" height="1" fill="#fff"/>
<rect x="103" y="241" width="1" height="31" fill="#000"/>
<rect x="102" y="246" width="3" height="12" fill="#000"/>
<rect x="107" y="252" width="1" height="48" fill="#000"/>
<rect x="106" y="257" width="3" height="39" fill="#000"/>
<rect x="111" y="293" width="1" height="59" fill="#000"/>
<rect x="110" y="294" width="3" height="45" fill="#000"/>
<rect x="115" y="328" width="1" height="38" fill="#000"/>
<rect x="114" y="338" width="3" height="3" fill="#000"/>
<rect x="119" y="320" width="1" height="30" fill="#000"/>
<rect x="118" y="328" width="3" height="13" fill="#000"/>
<rect x="119" y="329" width="1" height="11" fill="#fff"/>
<rect x="123" y="321" width="1" height="16" fill="#000"/>
<rect x="122" y="327" width="3" height="5" fill="#000"/>
<rect x="127" y="317" width="1" height="25" fill="#000"/>
<rect x="126" y="319" width="3" height="12" fill="#000"/>
<rect x="127" y="320" width="1" height="10" fill="#fff"/>
<rect x="131" y="310" width="1" height="23" fill="#000"/>
<rect x="130" y="319" width="3" height="12" fill="#000"/>
<rect x="135" y="322" width="1" height="11" fill="#000"/>
<rect x="134" y="330" width="3" height="2" fill="#000"/>
<rect x="139" y="328" width="1" height="9" fill="#000"/>
<rect x="138" y="331" width="3" height="3" fill="#000"/>
<rect x="143" y="292" width="1" height="42" fill="#000"/>
<rect x="142" y="310" width="3" height="24" fill="#000"/>
<rect x="143" y="311" width="1" height="22" fill="#fff"/>
<rect x="147" y="293" width="1" height="25" fill="#000"/>
<rect x="146" y="304" width="3" height="6" fill="#000"/>
<rect x="147" y="305" width="1" height="4" fill="#fff"/>
<rect x="151" y="270" width="1" height="34" fill="#000"/>
<rect x="150" y="292" width="3" height="12" fill="#000"/>
<rect x="151" y="293" width="1" height="10" fill="#fff"/>
<rect x="155" y="272" width="1" height="25" fill="#000"/>
<rect x="154" y="276" width="3" height="17" fill="#000"/>
<rect x="155" y="277" width="1" height="15" fill="#fff"/>
<rect x="159" y="262" width="1" height="22" fill="#000"/>
<rect x="158" y="271" width="3" height="5" fill="#000"/>
<rect x="159" y="272" width="1" height="3" fill="#fff"/>
<rect x="163" y="268" width="1" height="13" fill="#000"/>
<rect x="162" y="270" width="3" height="1" fill="#000"/>
<rect x="167" y="260" width="1" height="19" fill="#000"/>
<rect x="166" y="266" width="3" height="4" fill="#000"/>
<rect x="167" y="267" width="1" height="2" fill="#fff"/>
<rect x="171" y="253" width="1" height="13" fill="#000"/>
<rect x="170" y="262" width="3" height="4" fill="#000"/>
<rect x="171" y="263" width="1" height="2" fill="#fff"/>
<rect x="175" y="247" width="1" height="21" fill="#000"/>
<rect x="174" y="262" width="3" height="3" fill="#000"/>
<rect x="179" y="178" width="1" height="86" fill="#000"/>
<rect x="178" y="191" width="3" height="73" fill="#000"/>
<rect x="179" y="192" width="1" height="71" fill="#fff"/>
<rect x="183" y="174" width="1" height="24" fill="#000"/>
<rect x="182" y="190" width="3" height="2" fill="#000"/>
<rect x="187" y="186" width="1" height="33" fill="#000"/>
<rect x="186" y="190" width="3" height="22" fill="#000"/>
<rect x="191" y="200" width="1" height="25" fill="#000"/>
<rect x="190" y="211" width="3" height="14" fill="#000"/>
<rect x="195" y="203" width="1" height="38" fill="#000"/>
<rect x="194" y="224" width="3" height="4" fill="#000"/>
<rect x="199" y="224" width="1" height="30" fill="#000"/>
<rect x="198" y="229" width="3" height="23" fill="#000"/>
<rect x="203" y="234" width="1" height="47" fill="#000"/>
<rect x="202" y="239" width="3" height="12" fill="#000"/>
<rect x="203" y="240" width="1" height="10" fill="#fff"/>
<rect x="207" y="218" width="1" height="42" fill="#000"/>
<rect x="206" y="220" width="3" height="20" fill="#000"/>
<rect x="207" y="221" width="1" height="18" fill="#fff"/>
<rect x="211" y="194" width="1" height="28" fill="#000"/>
<rect x="210" y="208" width="3" height="12" fill="#000"/>
<rect x="211" y="209" width="1" height="10" fill="#fff"/>
<rect x="215" y="205" width="1" height="16" fill="#000"/>
<rect x="214" y="207" width="3" height="13" fill="#000"/>
<rect x="219" y="196" width="1" height="24" fill="#000"/>
<rect x="218" y="202" width="3" height="17" fill="#000"/>
<rect x="219" y="203" width="1" height="15" fill="#fff"/>
<rect x="223" y="199" width="1" height="15" fill="#000"/>
<rect x="222" y="200" width="3" height="3" fill="#000"/>
<rect x="223" y="201" width="1" height="1" fill="#fff"/>
<rect x="227" y="184" width="1" height="21" fill="#000"/>
<rect x="226" y="186" width="3" height="15" fill="#000"/>
<rect x="227" y="187" width="1" height="13" fill="#fff"/>
<rect x="231" y="181" width="1" height="15" fill="#000"/>
<rect x="230" y="187" width="3" height="6" fill="#000"/>
<rect x="235" y="191" width="1" height="13" fill="#000"/>
<rect x="234" y="193" width="3" height="3" fill="#000"/>
<rect x="239" y="175" width="1" height="21" fill="#000"/>
<rect x="238" y="176" width="3" height="20" fill="#000"/>
<rect x="239" y="177" width="1" height="18" fill="#fff"/>
<rect x="243" y="164" width="1" height="24" fill="#000"/>
<rect x="242" y="176" width="3" height="9" fill="#000"/>
<rect x="247" y="175" width="1" height="15" fill="#000"/>
<rect x="246" y="185" width="3" height="5" fill="#000"/>
<rect x="251" y="182" width="1" height="21" fill="#000"/>
<rect x="250" y="189" width="3" height="3" fill="#000"/>
<rect x="255" y="186" width="1" height="16" fill="#000"/>
<rect x="254" y="191" width="3" height="4" fill="#000"/>
<rect x="259" y="190" width="1" height="11" fill="#000"/>
<rect x="258" y="193" width="3" height="7" fill="#000"/>
<rect x="263" y="193" width="1" height="45" fill="#000"/>
<rect x="262" y="199" width="3" height="35" fill="#000"/>
<rect x="267" y="219" width="1" height="36" fill="#000"/>
<rect x="266" y="233" width="3" height="5" fill="#000"/>
<rect x="271" y="200" width="1" height="40" fill="#000"/>
<rect x="270" y="206" width="3" height="32" fill="#000"/>
<rect x="271" y="207" width="1" height="30" fill="#fff"/>
<rect x="275" y="183" width="1" height="40" fill="#000"/>
<rect x="274" y="206" width="3" height="7" fill="#000"/>
<rect x="279" y="203" width="1" height="21" fill="#000"/>
<rect x="278" y="208" width="3" height="5" fill="#000"/>
<rect x="279" y="209" width="1" height="3" fill="#fff"/>
<rect x="283" y="203" width="1" height="28" fill="#000"/>
<rect x="282" y="207" width="3" height="20" fill="#000"/>
<rect x="287" y="221" width="1" height="14" fill="#000"/>
<rect x="286" y="226" width="3" height="3" fill="#000"/>
<rect x="291" y="209" width="1" height="20" fill="#000"/>
<rect x="290" y="214" width="3" height="14" fill="#000"/>
<rect x="291" y="215" width="1" height="12" fill="#fff"/>
<rect x="295" y="195" width="1" height="25" fill="#000"/>
<rect x="294" y="214" width="3" height="2" fill="#000"/>
<rect x="299" y="210" width="1" height="25" fill="#000"/>
<rect x="298" y="215" width="3" height="16" fill="#000"/>
<rect x="303" y="191" width="1" height="63" fill="#000"/>
<rect x="302" y="206" width="3" height="25" fill="#000"/>
<rect x="303" y="207" width="1" height="23" fill="#fff"/>
<rect x="307" y="188" width="1" height="23" fill="#000"/>
<rect x="306" y="190" width="3" height="16" fill="#000"/>
<rect x="307" y="191" width="1" height="14" fill="#fff"/>
<rect x="311" y="182" width="1" height="13" fill="#000"/>
<rect x="310" y="184" width="3" height="6" fill="#000"/>
<rect x="311" y="185" width="1" height="4" fill="#fff"/>
<rect x="315" y="179" width="1" height="11" fill="#000"/>
<rect x="314" y="184" width="3" height="3" fill="#000"/>
<rect x="319" y="172" width="1" height="28" fill="#000"/>
<rect x="318" y="179" width="3" height="8" fill="#000"/>
<rect x="319" y="180" width="1" height="6" fill="#fff"/>
<rect x="323" y="165" width="1" height="19" fill="#000"/>
<rect x="322" y="174" width="3" height="6" fill="#000"/>
<rect x="323" y="175" width="1" height="4" fill="#fff"/>
<rect x="327" y="172" width="1" height="12" fill="#000"/>
<rect x="326" y="174" width="3" height="9" fill="#000"/>
<rect x="331" y="183" width="1" height="17" fill="#000"/>
<rect x="330" y="188" width="3" height="1" fill="#000"/>
<rect x="335" y="178" width="1" height="11" fill="#000"/>
<rect x="334" y="181" width="3" height="7" fill="#000"/>
<rect x="335" y="182" width="1" height="5" fill="#fff"/>
<rect x="339" y="176" width="1" height="10" fill="#000"/>
<rect x="338" y="179" width="3" height="3" fill="#000"/>
<rect x="339" y="180" width="1" height="1" fill="#fff"/>
<rect x="343" y="165" width="1" height="17" fill="#000"/>
<rect x="342" y="174" width="3" height="6" fill="#000"/>
<rect x="343" y="175" width="1" height="4" fill="#fff"/>
<rect x="347" y="170" width="1" height="22" fill="#000"/>
<rect x="346" y="171" width="3" height="3" fill="#000"/>
<rect x="347" y="172" width="1" height="1" fill="#fff"/>
<rect x="351" y="162" width="1" height="24" fill="#000"/>
<rect x="350" y="172" width="3" height="12" fill="#000"/>
<rect x="355" y="177" width="1" height="13" fill="#000"/>
<rect x="354" y="183" width="3" height="6" fill="#000"/>
<rect x="359" y="183" width="1" height="15" fill="#000"/>
<rect x="358" y="188" width="3" height="2" fill="#000"/>
<rect x="363" y="174" width="1" height="17" fill="#000"/>
<rect x="362" y="181" width="3" height="9" fill="#000"/>
<rect x="363" y="182" width="1" height="7" fill="#fff"/>
<rect x="367" y="162" width="1" height="27" fill="#000"/>
<rect x="366" y="180" width="3" height="4" fill="#000"/>
<rect x="371" y="177" width="1" height="18" fill="#000"/>
<rect x="370" y="183" width="3" height="11" fill="#000"/>
<rect x="375" y="176" width="1" height="20" fill="#000"/>
<rect x="374" y="189" width="3" height="5" fill="#000"/>
<rect x="375" y="190" width="1" height="3" fill="#fff"/>
<rect x="379" y="171" width="1" height="21" fill="#000"/>
<rect x="378" y="180" width="3" height="8" fill="#000"/>
<rect x="379" y="181" width="1" height="6" fill="#fff"/>
<rect x="383" y="176" width="1" height="10" fill="#000"/>
<rect x="382" y="179" width="3" height="2" fill="#000"/>
<rect x="387" y="179" width="1" height="23" fill="#000"/>
<rect x="386" y="180" width="3" height="6" fill="#000"/>
<rect x="391" y="179" width="1" height="17" fill="#000"/>
<rect x="390" y="186" width="3" height="8" fill="#000"/>
<rect x="395" y="188" width="1" height="12" fill="#000"/>
<rect x="394" y="194" width="3" height="5" fill="#000"/>
<rect x="399" y="182" width="1" height="17" fill="#000"/>
<rect x="398" y="184" width="3" height="14" fill="#000"/>
<rect x="399" y="185" width="1" height="12" fill="#fff"/>
<rect x="403" y="181" width="1" height="9" fill="#000"/>
<rect x="402" y="182" width="3" height="3" fill="#000"/>
<rect x="403" y="183" width="1" height="1" fill="#fff"/>
<rect x="407" y="176" width="1" height="13" fill="#000"/>
<rect x="406" y="183" width="3" height="1" fill="#000"/>
<rect x="411" y="180" width="1" height="4" fill="#000"/>
<rect x="410" y="181" width="3" height="3" fill="#000"/>
<rect x="411" y="182" width="1" height="1" fill="#fff"/>
<rect x="415" y="180" width="1" height="6" fill="#000"/>
<rect x="414" y="181" width="3" height="3" fill="#000"/>
<rect x="419" y="169" width="1" height="29" fill="#000"/>
<rect x="418" y="185" width="3" height="13" fill="#000"/>
<rect x="423" y="172" width="1" height="27" fill="#000"/>
<rect x="422" y="197" width="3" height="1" fill="#000"/>
<rect x="427" y="191" width="1" height="14" fill="#000"/>
<rect x="426" y="200" width="3" height="1" fill="#000"/>
<rect x="431" y="186" width="1" height="15" fill="#000"/>
<rect x="430" y="195" width="3" height="6" fill="#000"/>
<rect x="431" y="196" width="1" height="4" fill="#fff"/>
<rect x="435" y="185" width="1" height="13" fill="#000"/>
<rect x="434" y="186" width="3" height="9" fill="#000"/>
<rect x="435" y="187" width="1" height="7" fill="#fff"/>
<rect x="439" y="185" width="1" height="17" fill="#000"/>
<rect x="438" y="185" width="3" height="3" fill="#000"/>
<rect x="443" y="183" width="1" height="18" fill="#000"/>
<rect x="442" y="184" width="3" height="4" fill="#000"/>
<rect x="443" y="185" width="1" height="2" fill="#fff"/>
<rect x="447" y="166" width="1" height="22" fill="#000"/>
<rect x="446" y="169" width="3" height="17" fill="#000"/>
<rect x="447" y="170" width="1" height="15" fill="#fff"/>
<rect x="451" y="157" width="1" height="13" fill="#000"/>
<rect x="450" y="162" width="3" height="7" fill="#000"/>
<rect x="451" y="163" width="1" height="5" fill="#fff"/>
<rect x="455" y="150" width="1" height="13" fill="#000"/>
<rect x="454" y="151" width="3" height="11" fill="#000"/>
<rect x="455" y="152" width="1" height="9" fill="#fff"/>
<rect x="459" y="146" width="1" height="10" fill="#000"/>
<rect x="458" y="151" width="3" height="3" fill="#000"/>
<rect x="463" y="149" width="1" height="19" fill="#000"/>
<rect x="462" y="150" width="3" height="10" fill="#000"/>
<rect x="467" y="139" width="1" height="24" fill="#000"/>
<rect x="466" y="144" width="3" height="16" fill="#000"/>
<rect x="467" y="145" width="1" height="14" fill="#fff"/>
<rect x="471" y="141" width="1" height="22" fill="#000"/>
<rect x="470" y="143" width="3" height="15" fill="#000"/>
<rect x="475" y="155" width="1" height="17" fill="#000"/>
<rect x="474" y="158" width="3" height="11" fill="#000"/>
<rect x="479" y="157" width="1" height="15" fill="#000"/>
<rect x="478" y="167" width="3" height="3" fill="#000"/>
<rect x="479" y="168" width="1" height="1" fill="#fff"/>
<rect x="483" y="159" width="1" height="23" fill="#000"/>
<rect x="482" y="165" width="3" height="3" fill="#000"/>
<rect x="483" y="166" width="1" height="1" fill="#fff"/>
<rect x="487" y="146" width="1" height="30" fill="#000"/>
<rect x="486" y="153" width="3" height="12" fill="#000"/>
<rect x="487" y="154" width="1" height="10" fill="#fff"/>
<rect x="491" y="127" width="1" height="26" fill="#000"/>
<rect x="490" y="132" width="3" height="21" fill="#000"/>
<rect x="491" y="133" width="1" height="19" fill="#fff"/>
<rect x="495" y="116" width="1" height="21" fill="#000"/>
<rect x="494" y="122" width="3" height="11" fill="#000"/>
<rect x="495" y="123" width="1" height="9" fill="#fff"/>
<rect x="499" y="116" width="1" height="29" fill="#000"/>
<rect x="498" y="122" width="3" height="20" fill="#000"/>
<rect x="503" y="129" width="1" height="17" fill="#000"/>
<rect x="502" y="130" width="3" height="12" fill="#000"/>
<rect x="503" y="131" width="1" height="10" fill="#fff"/>
<rect x="507" y="130" width="1" height="16" fill="#000"/>
<rect x="506" y="130" width="3" height="12" fill="#000"/>
<rect x="511" y="130" width="1" height="13" fill="#000"/>
<rect x="510" y="136" width="3" height="5" fill="#000"/>
<rect x="511" y="137" width="1" height="3" fill="#fff"/>
<rect x="515" y="130" width="1" height="10" fill="#000"/>
<rect x="514" y="135" width="3" height="3" fill="#000"/>
<rect x="519" y="135" width="1" height="13" fill="#000"/>
<rect x="518" y="142" width="3" height="6" fill="#000"/>
<rect x="519" y="143" width="1" height="4" fill="#fff"/>
<rect x="523" y="106" width="1" height="37" fill="#000"/>
<rect x="522" y="112" width="3" height="30" fill="#000"/>
<rect x="523" y="113" width="1" height="28" fill="#fff"/>
<rect x="527" y="106" width="1" height="20" fill="#000"/>
<rect x="526" y="109" width="3" height="3" fill="#000"/>
<rect x="527" y="110" width="1" height="1" fill="#fff"/>
<rect x="531" y="100" width="1" height="21" fill="#000"/>
<rect x="530" y="107" width="3" height="3" fill="#000"/>
<rect x="531" y="108" width="1" height="1" fill="#fff"/>
<rect x="535" y="108" width="1" height="28" fill="#000"/>
<rect x="534" y="108" width="3" height="24" fill="#000"/>
<rect x="539" y="126" width="1" height="16" fill="#000"/>
<rect x="538" y="131" width="3" height="7" fill="#000"/>
<rect x="543" y="124" width="1" height="22" fill="#000"/>
<rect x="542" y="132" width="3" height="6" fill="#000"/>
<rect x="543" y="133" width="1" height="4" fill="#fff"/>
<rect x="547" y="129" width="1" height="13" fill="#000"/>
<rect x="546" y="131" width="3" height="3" fill="#000"/>
<rect x="551" y="130" width="1" height="23" fill="#000"/>
<rect x="550" y="132" width="3" height="19" fill="#000"/>
<rect x="555" y="139" width="1" height="22" fill="#000"/>
<rect x="554" y="140" width="3" height="11" fill="#000"/>
<rect x="555" y="141" width="1" height="9" fill="#fff"/>
<rect x="559" y="139" width="1" height="24" fill="#000"/>
<rect x="558" y="139" width="3" height="24" fill="#000"/>
<rect x="563" y="136" width="1" height="36" fill="#000"/>
<rect x="562" y="141" width="3" height="21" fill="#000"/>
<rect x="563" y="142" width="1" height="19" fill="#fff"/>
<rect x="567" y="138" width="1" height="14" fill="#000"/>
<rect x="566" y="141" width="3" height="5" fill="#000"/>
<rect x="571" y="138" width="1" height="15" fill="#000"/>
<rect x="570" y="145" width="3" height="6" fill="#000"/>
<rect x="575" y="140" width="1" height="26" fill="#000"/>
<rect x="574" y="150" width="3" height="13" fill="#000"/>
<rect x="579" y="146" width="1" height="21" fill="#000"/>
<rect x="578" y="149" width="3" height="12" fill="#000"/>
<rect x="579" y="150" width="1" height="10" fill="#fff"/>
<rect x="583" y="141" width="1" height="31" fill="#000"/>
<rect x="582" y="149" width="3" height="9" fill="#000"/>
<rect x="587" y="147" width="1" height="47" fill="#000"/>
<rect x="586" y="157" width="3" height="17" fill="#000"/>
<rect x="591" y="165" width="1" height="48" fill="#000"/>
<rect x="590" y="173" width="3" height="33" fill="#000"/>
<rect x="595" y="192" width="1" height="14" fill="#000"/>
<rect x="594" y="194" width="3" height="12" fill="#000"/>
<rect x="595" y="195" width="1" height="10" fill="#fff"/>
<rect x="599" y="192" width="1" height="11" fill="#000"/>
<rect x="598" y="194" width="3" height="7" fill="#000"/>
<rect x="603" y="200" width="1" height="7" fill="#000"/>
<rect x="602" y="199" width="3" height="1" fill="#000"/>
<rect x="607" y="199" width="1" height="30" fill="#000"/>
<rect x="606" y="199" width="3" height="30" fill="#000"/>
<rect x="611" y="218" width="1" height="11" fill="#000"/>
<rect x="610" y="223" width="3" height="6" fill="#000"/>
<rect x="611" y="224" width="1" height="4" fill="#fff"/>
<rect x="615" y="211" width="1" height="19" fill="#000"/>
<rect x="614" y="219" width="3" height="11" fill="#000"/>
<rect x="615" y="220" width="1" height="9" fill="#fff"/>
<rect x="619" y="186" width="1" height="34" fill="#000"/>
<rect x="618" y="191" width="3" height="29" fill="#000"/>
<rect x="619" y="192" width="1" height="27" fill="#fff"/>
<rect x="623" y="184" width="1" height="20" fill="#000"/>
<rect x="622" y="187" width="3" height="3" fill="#000"/>
<rect x="623" y="188" width="1" height="1" fill="#fff"/>
<rect x="627" y="183" width="1" height="21" fill="#000"/>
<rect x="626" y="187" width="3" height="9" fill="#000"/>
<rect x="631" y="183" width="1" height="20" fill="#000"/>
<rect x="630" y="188" width="3" height="8" fill="#000"/>
<rect x="631" y="189" width="1" height="6" fill="#fff"/>
<rect x="635" y="173" width="1" height="18" fill="#000"/>
<rect x="634" y="179" width="3" height="10" fill="#000"/>
<rect x="635" y="180" width="1" height="8" fill="#fff"/>
<rect x="639" y="167" width="1" height="14" fill="#000"/>
<rect x="638" y="173" width="3" height="7" fill="#000"/>
<rect x="639" y="174" width="1" height="5" fill="#fff"/>
<rect x="643" y="171" width="1" height="11" fill="#000"/>
<rect x="642" y="173" width="3" height="1" fill="#000"/>
<rect x="647" y="171" width="1" height="16" fill="#000"/>
<rect x="646" y="174" width="3" height="12" fill="#000"/>
<rect x="651" y="172" width="1" height="17" fill="#000"/>
<rect x="650" y="182" width="3" height="4" fill="#000"/>
<rect x="651" y="183" width="1" height="2" fill="#fff"/>
<rect x="655" y="175" width="1" height="17" fill="#000"/>
<rect x="654" y="181" width="3" height="1" fill="#000"/>
<rect x="659" y="178" width="1" height="29" fill="#000"/>
<rect x="658" y="181" width="3" height="21" fill="#000"/>
<rect x="663" y="199" width="1" height="19" fill="#000"/>
<rect x="662" y="202" width="3" height="15" fill="#000"/>
<rect x="667" y="199" width="1" height="21" fill="#000"/>
<rect x="666" y="205" width="3" height="12" fill="#000"/>
<rect x="667" y="206" width="1" height="10" fill="#fff"/>
<rect x="671" y="199" width="1" height="13" fill="#000"/>
<rect x="670" y="202" width="3" height="3" fill="#000"/>
<rect x="671" y="203" width="1" height="1" fill="#fff"/>
<rect x="675" y="185" width="1" height="22" fill="#000"/>
<rect x="674" y="188" width="3" height="14" fill="#000"/>
<rect x="675" y="189" width="1" height="12" fill="#fff"/>
<rect x="679" y="186" width="1" height="37" fill="#000"/>
<rect x="678" y="188" width="3" height="14" fill="#000"/>
<rect x="683" y="185" width="1" height="30" fill="#000"/>
<rect x="682" y="197" width="3" height="5" fill="#000"/>
<rect x="683" y="198" width="1" height="3" fill="#fff"/>
<rect x="687" y="172" width="1" height="29" fill="#000"/>
<rect x="686" y="197" width="3" height="3" fill="#000"/>
<rect x="691" y="179" width="1" height="22" fill="#000"/>
<rect x="690" y="182" width="3" height="18" fill="#000"/>
<rect x="691" y="183" width="1" height="16" fill="#fff"/>
<rect x="695" y="175" width="1" height="10" fill="#000"/>
<rect x="694" y="176" width="3" height="7" fill="#000"/>
<rect x="695" y="177" width="1" height="5" fill="#fff"/>
<rect x="699" y="171" width="1" height="13" fill="#000"/>
<rect x="698" y="176" width="3" height="5" fill="#000"/>
<rect x="703" y="169" width="1" height="22" fill="#000"/>
<rect x="702" y="172" width="3" height="9" fill="#000"/>
<rect x="703" y="173" width="1" height="7" fill="#fff"/>
<rect x="707" y="166" width="1" height="9" fill="#000"/>
<rect x="706" y="170" width="3" height="3" fill="#000"/>
<rect x="707" y="171" width="1" height="1" fill="#fff"/>
<rect x="711" y="162" width="1" height="24" fill="#000"/>
<rect x="710" y="168" width="3" height="8" fill="#000"/>
<rect x="711" y="169" width="1" height="6" fill="#fff"/>
<rect x="715" y="144" width="1" height="26" fill="#000"/>
<rect x="714" y="150" width="3" height="19" fill="#000"/>
<rect x="715" y="151" width="1" height="17" fill="#fff"/>
<rect x="719" y="133" width="1" height="34" fill="#000"/>
<rect x="718" y="141" width="3" height="10" fill="#000"/>
<rect x="719" y="142" width="1" height="8" fill="#fff"/>
<rect x="723" y="141" width="1" height="36" fill="#000"/>
<rect x="722" y="141" width="3" height="29" fill="#000"/>
<rect x="727" y="148" width="1" height="25" fill="#000"/>
<rect x="726" y="162" width="3" height="8" fill="#000"/>
<rect x="727" y="163" width="1" height="6" fill="#fff"/>
<rect x="731" y="144" width="1" height="22" fill="#000"/>
<rect x="730" y="146" width="3" height="16" fill="#000"/>
<rect x="731" y="147" width="1" height="14" fill="#fff"/>
<rect x="735" y="144" width="1" height="20" fill="#000"/>
<rect x="734" y="146" width="3" height="17" fill="#000"/>
<rect x="739" y="159" width="1" height="24" fill="#000"/>
<rect x="738" y="162" width="3" height="8" fill="#000"/>
<rect x="743" y="158" width="1" height="18" fill="#000"/>
<rect x="742" y="168" width="3" height="3" fill="#000"/>
<rect x="743" y="169" width="1" height="1" fill="#fff"/>
<rect x="747" y="127" width="1" height="46" fill="#000"/>
<rect x="746" y="146" width="3" height="22" fill="#000"/>
<rect x="747" y="147" width="1" height="20" fill="#fff"/>
<rect x="751" y="139" width="1" height="33" fill="#000"/>
<rect x="750" y="146" width="3" height="15" fill="#000"/>
<rect x="755" y="134" width="1" height="28" fill="#000"/>
<rect x="754" y="148" width="3" height="12" fill="#000"/>
<rect x="755" y="149" width="1" height="10" fill="#fff"/>
<rect x="759" y="146" width="1" height="20" fill="#000"/>
<rect x="758" y="148" width="3" height="9" fill="#000"/>
<rect x="763" y="143" width="1" height="33" fill="#000"/>
<rect x="762" y="156" width="3" height="18" fill="#000"/>
<rect x="767" y="170" width="1" height="36" fill="#000"/>
<rect x="766" y="173" width="3" height="23" fill="#000"/>
<rect x="771" y="171" width="1" height="25" fill="#000"/>
<rect x="770" y="194" width="3" height="2" fill="#000"/>
<rect x="775" y="178" width="1" height="25" fill="#000"/>
<rect x="774" y="180" width="3" height="15" fill="#000"/>
<rect x="775" y="181" width="1" height="13" fill="#fff"/>
<rect x="779" y="144" width="1" height="36" fill="#000"/>
<rect x="778" y="152" width="3" height="28" fill="#000"/>
<rect x="779" y="153" width="1" height="26" fill="#fff"/>
<rect x="783" y="119" width="1" height="35" fill="#000"/>
<rect x="782" y="125" width="3" height="27" fill="#000"/>
<rect x="783" y="126" width="1" height="25" fill="#fff"/>
<rect x="787" y="111" width="1" height="17" fill="#000"/>
<rect x="786" y="121" width="3" height="3" fill="#000"/>
<rect x="787" y="122" width="1" height="1" fill="#fff"/>
<rect x="791" y="114" width="1" height="12" fill="#000"/>
<rect x="790" y="119" width="3" height="2" fill="#000"/>
<rect x="795" y="102" width="1" height="29" fill="#000"/>
<rect x="794" y="111" width="3" height="10" fill="#000"/>
<rect x="795" y="112" width="1" height="8" fill="#fff"/>
<rect x="799" y="97" width="1" height="18" fill="#000"/>
<rect x="798" y="105" width="3" height="6" fill="#000"/>
<rect x="799" y="106" width="1" height="4" fill="#fff"/>
<rect x="803" y="78" width="1" height="28" fill="#000"/>
<rect x="802" y="89" width="3" height="16" fill="#000"/>
<rect x="803" y="90" width="1" height="14" fill="#fff"/>
<rect x="807" y="86" width="1" height="14" fill="#000"/>
<rect x="806" y="89" width="3" height="5" fill="#000"/>
<rect x="811" y="79" width="1" height="16" fill="#000"/>
<rect x="810" y="86" width="3" height="9" fill="#000"/>
<rect x="811" y="87" width="1" height="7" fill="#fff"/>
<rect x="815" y="87" width="1" height="29" fill="#000"/>
<rect x="814" y="87" width="3" height="29" fill="#000"/>
<rect x="819" y="105" width="1" height="13" fill="#000"/>
<rect x="818" y="112" width="3" height="4" fill="#000"/>
<rect x="819" y="113" width="1" height="2" fill="#fff"/>
<rect x="823" y="84" width="1" height="32" fill="#000"/>
<rect x="822" y="93" width="3" height="20" fill="#000"/>
<rect x="823" y="94" width="1" height="18" fill="#fff"/>
<rect x="827" y="82" width="1" height="15" fill="#000"/>
<rect x="826" y="92" width="3" height="4" fill="#000"/>
<rect x="831" y="95" width="1" height="15" fill="#000"/>
<rect x="830" y="95" width="3" height="2" fill="#000"/>
<rect x="835" y="89" width="1" height="14" fill="#000"/>
<rect x="834" y="94" width="3" height="3" fill="#000"/>
<rect x="835" y="95" width="1" height="1" fill="#fff"/>
<rect x="839" y="80" width="1" height="16" fill="#000"/>
<rect x="838" y="81" width="3" height="13" fill="#000"/>
<rect x="839" y="82" width="1" height="11" fill="#fff"/>
<rect x="843" y="51" width="1" height="32" fill="#000"/>
<rect x="842" y="53" width="3" height="29" fill="#000"/>
<rect x="843" y="54" width="1" height="27" fill="#fff"/>
<rect x="847" y="46" width="1" height="24" fill="#000"/>
<rect x="846" y="53" width="3" height="8" fill="#000"/>
<rect x="851" y="57" width="1" height="41" fill="#000"/>
<rect x="850" y="60" width="3" height="17" fill="#000"/>
<rect x="855" y="74" width="1" height="15" fill="#000"/>
<rect x="854" y="77" width="3" height="3" fill="#000"/>
<rect x="859" y="62" width="1" height="26" fill="#000"/>
<rect x="858" y="72" width="3" height="8" fill="#000"/>
<rect x="859" y="73" width="1" height="6" fill="#fff"/>
<rect x="863" y="56" width="1" height="25" fill="#000"/>
<rect x="862" y="58" width="3" height="14" fill="#000"/>
<rect x="863" y="59" width="1" height="12" fill="#fff"/>
<rect x="867" y="49" width="1" height="22" fill="#000"/>
<rect x="866" y="58" width="3" height="3" fill="#000"/>
<rect x="871" y="33" width="1" height="32" fill="#000"/>
<rect x="870" y="39" width="3" height="21" fill="#000"/>
<rect x="871" y="40" width="1" height="19" fill="#fff"/>
<rect x="875" y="26" width="1" height="21" fill="#000"/>
<rect x="874" y="30" width="3" height="9" fill="#000"/>
<rect x="875" y="31" width="1" height="7" fill="#fff"/>
<rect x="879" y="21" width="1" height="29" fill="#000"/>
<rect x="878" y="29" width="3" height="3" fill="#000"/>
<rect x="883" y="31" width="1" height="16" fill="#000"/>
<rect x="882" y="32" width="3" height="2" fill="#000"/>
<rect x="887" y="28" width="1" height="17" fill="#000"/>
<rect x="886" y="33" width="3" height="7" fill="#000"/>
<rect x="891" y="23" width="1" height="17" fill="#000"/>
<rect x="890" y="28" width="3" height="12" fill="#000"/>
<rect x="891" y="29" width="1" height="10" fill="#fff"/>
<rect x="895" y="25" width="1" height="34" fill="#000"/>
<rect x="894" y="29" width="3" height="9" fill="#000"/>
<rect x="899" y="31" width="1" height="15" fill="#000"/>
<rect x="898" y="37" width="3" height="5" fill="#000"/>
<rect x="903" y="39" width="1" height="15" fill="#000"/>
<rect x="902" y="50" width="3" height="1" fill="#000"/>
<rect x="907" y="33" width="1" height="18" fill="#000"/>
<rect x="906" y="47" width="3" height="4" fill="#000"/>
<rect x="907" y="48" width="1" height="2" fill="#fff"/>
<rect x="911" y="33" width="1" height="18" fill="#000"/>
<rect x="910" y="43" width="3" height="4" fill="#000"/>
<rect x="911" y="44" width="1" height="2" fill="#fff"/>
<rect x="915" y="39" width="1" height="26" fill="#000"/>
<rect x="914" y="42" width="3" height="16" fill="#000"/>
<rect x="919" y="53" width="1" height="16" fill="#000"/>
<rect x="918" y="55" width="3" height="3" fill="#000"/>
<rect x="919" y="56" width="1" height="1" fill="#fff"/>
<rect x="923" y="51" width="1" height="21" fill="#000"/>
<rect x="922" y="55" width="3" height="13" fill="#000"/>
<rect x="927" y="58" width="1" height="11" fill="#000"/>
<rect x="926" y="62" width="3" height="6" fill="#000"/>
<rect x="927" y="63" width="1" height="4" fill="#fff"/>
<rect x="931" y="59" width="1" height="13" fill="#000"/>
<rect x="930" y="63" width="3" height="3" fill="#000"/>
<rect x="935" y="46" width="1" height="24" fill="#000"/>
<rect x="934" y="52" width="3" height="14" fill="#000"/>
<rect x="935" y="53" width="1" height="12" fill="#fff"/>
<rect x="939" y="50" width="1" height="13" fill="#000"/>
<rect x="938" y="52" width="3" height="8" fill="#000"/>
<rect x="943" y="47" width="1" height="34" fill="#000"/>
<rect x="942" y="59" width="3" height="21" fill="#000"/>
<rect x="947" y="59" width="1" height="29" fill="#000"/>
<rect x="946" y="64" width="3" height="15" fill="#000"/>
<rect x="947" y="65" width="1" height="13" fill="#fff"/>
<rect x="951" y="64" width="1" height="21" fill="#000"/>
<rect x="950" y="64" width="3" height="5" fill="#000"/>
<rect x="955" y="64" width="1" height="20" fill="#000"/>
<rect x="954" y="68" width="3" height="9" fill="#000"/>
<rect x="959" y="62" width="1" height="18" fill="#000"/>
<rect x="958" y="77" width="3" height="2" fill="#000"/>
<rect x="963" y="58" width="1" height="38" fill="#000"/>
<rect x="962" y="77" width="3" height="2" fill="#000"/>
<rect x="967" y="36" width="1" height="44" fill="#000"/>
<rect x="966" y="44" width="3" height="34" fill="#000"/>
<rect x="967" y="45" width="1" height="32" fill="#fff"/>
<rect x="971" y="39" width="1" height="27" fill="#000"/>
<rect x="970" y="44" width="3" height="10" fill="#000"/>
<rect x="975" y="39" width="1" height="20" fill="#000"/>
<rect x="974" y="44" width="3" height="10" fill="#000"/>
<rect x="975" y="45" width="1" height="8" fill="#fff"/>
<rect x="979" y="38" width="1" height="17" fill="#000"/>
<rect x="978" y="44" width="3" height="4" fill="#000"/>
<rect x="983" y="32" width="1" height="18" fill="#000"/>
<rect x="982" y="44" width="3" height="4" fill="#000"/>
<rect x="983" y="45" width="1" height="2" fill="#fff"/>
<rect x="987" y="37" width="1" height="17" fill="#000"/>
<rect x="986" y="41" width="3" height="5" fill="#000"/>
<rect x="987" y="42" width="1" height="3" fill="#fff"/>
<rect x="991" y="41" width="1" height="25" fill="#000"/>
<rect x="990" y="41" width="3" height="16" fill="#000"/>
<rect x="995" y="55" width="1" height="11" fill="#000"/>
<rect x="994" y="59" width="3" height="1" fill="#000"/>
<rect x="999" y="46" width="1" height="16" fill="#000"/>
<rect x="998" y="53" width="3" height="9" fill="#000"/>
<rect x="999" y="54" width="1" height="7" fill="#fff"/>
<rect x="3" y="461" width="1" height="23" fill="#000090"/>
<rect x="7" y="452" width="1" height="32" fill="#000090"/>
<rect x="11" y="446" width="1" height="38" fill="#000090"/>
<rect x="15" y="441" width="1" height="43" fill="#000090"/>
<rect x="19" y="437" width="1" height="47" fill="#000090"/>
<rect x="23" y="434" width="1" height="50" fill="#000090"/>
<rect x="27" y="434" width="1" height="50" fill="#000090"/>
<rect x="31" y="435" width="1" height="49" fill="#000090"/>
<rect x="35" y="434" width="1" height="50" fill="#000090"/>
<rect x="39" y="436" width="1" height="48" fill="#000090"/>
<rect x="43" y="443" width="1" height="41" fill="#000090"/>
<rect x="47" y="442" width="1" height="42" fill="#000090"/>
<rect x="51" y="438" width="1" height="46" fill="#000090"/>
<rect x="55" y="433" width="1" height="51" fill="#000090"/>
<rect x="59" y="433" width="1" height="51" fill="#000090"/>
<rect x="63" y="434" width="1" height="50" fill="#000090"/>
<rect x="67" y="438" width="1" height="46" fill="#000090"/>
<rect x="71" y="441" width="1" height="43" fill="#000090"/>
<rect x="75" y="446" width="1" height="38" fill="#000090"/>
<rect x="79" y="446" width="1" height="38" fill="#000090"/>
<rect x="83" y="440" width="1" height="44" fill="#000090"/>
<rect x="87" y="435" width="1" height="49" fill="#000090"/>
<rect x="91" y="430" width="1" height="54" fill="#000090"/>
<rect x="95" y="429" width="1" height="55" fill="#000090"/>
<rect x="99" y="429" width="1" height="55" fill="#000090"/>
<rect x="103" y="432" width="1" height="52" fill="#000090"/>
<rect x="107" y="451" width="1" height="33" fill="#000090"/>
<rect x="111" y="474" width="1" height="10" fill="#000090"/>
<rect x="115" y="484" width="1" height="7" fill="#000090"/>
<rect x="119" y="484" width="1" height="19" fill="#000090"/>
<rect x="123" y="484" width="1" height="31" fill="#000090"/>
<rect x="127" y="484" width="1" height="34" fill="#000090"/>
<rect x="131" y="484" width="1" height="40" fill="#000090"/>
<rect x="135" y="484" width="1" height="45" fill="#000090"/>
<rect x="139" y="484" width="1" height="48" fill="#000090"/>
<rect x="143" y="484" width="1" height="44" fill="#000090"/>
<rect x="147" y="484" width="1" height="38" fill="#000090"/>
<rect x="151" y="484" width="1" height="29" fill="#000090"/>
<rect x="155" y="484" width="1" height="16" fill="#000090"/>
<rect x="159" y="484" width="1" height="6" fill="#000090"/>
<rect x="163" y="483" width="1" height="1" fill="#000090"/>
<rect x="167" y="474" width="1" height="10" fill="#000090"/>
<rect x="171" y="467" width="1" height="17" fill="#000090"/>
<rect x="175" y="461" width="1" height="23" fill="#000090"/>
<rect x="179" y="439" width="1" height="45" fill="#000090"/>
<rect x="183" y="418" width="1" height="66" fill="#000090"/>
<rect x="187" y="408" width="1" height="76" fill="#000090"/>
<rect x="191" y="406" width="1" height="78" fill="#000090"/>
<rect x="195" y="408" width="1" height="76" fill="#000090"/>
<rect x="199" y="415" width="1" height="69" fill="#000090"/>
<rect x="203" y="418" width="1" height="66" fill="#000090"/>
<rect x="207" y="417" width="1" height="67" fill="#000090"/>
<rect x="211" y="413" width="1" height="71" fill="#000090"/>
<rect x="215" y="410" width="1" height="74" fill="#000090"/>
<rect x="219" y="408" width="1" height="76" fill="#000090"/>
<rect x="223" y="406" width="1" height="78" fill="#000090"/>
<rect x="227" y="400" width="1" height="84" fill="#000090"/>
<rect x="231" y="399" width="1" height="85" fill="#000090"/>
<rect x="235" y="400" width="1" height="84" fill="#000090"/>
<rect x="239" y="396" width="1" height="88" fill="#000090"/>
<rect x="243" y="396" width="1" height="88" fill="#000090"/>
<rect x="247" y="399" width="1" height="85" fill="#000090"/>
<rect x="251" y="402" width="1" height="82" fill="#000090"/>
<rect x="255" y="407" width="1" height="77" fill="#000090"/>
<rect x="259" y="414" width="1" height="70" fill="#000090"/>
<rect x="263" y="429" width="1" height="55" fill="#000090"/>
<rect x="267" y="443" width="1" height="41" fill="#000090"/>
<rect x="271" y="445" width="1" height="39" fill="#000090"/>
<rect x="275" y="449" width="1" height="35" fill="#000090"/>
<rect x="279" y="452" width="1" height="32" fill="#000090"/>
<rect x="283" y="459" width="1" height="25" fill="#000090"/>
<rect x="287" y="464" width="1" height="20" fill="#000090"/>
<rect x="291" y="466" width="1" height="18" fill="#000090"/>
<rect x="295" y="469" width="1" height="15" fill="#000090"/>
<rect x="299" y="475" width="1" height="9" fill="#000090"/>
<rect x="303" y="472" width="1" height="12" fill="#000090"/>
<rect x="307" y="465" width="1" height="19" fill="#000090"/>
<rect x="311" y="460" width="1" height="24" fill="#000090"/>
<rect x="315" y="454" width="1" height="30" fill="#000090"/>
<rect x="319" y="450" width="1" height="34" fill="#000090"/>
<rect x="323" y="444" width="1" height="40" fill="#000090"/>
<rect x="327" y="444" width="1" height="40" fill="#000090"/>
<rect x="331" y="444" width="1" height="40" fill="#000090"/>
<rect x="335" y="443" width="1" height="41" fill="#000090"/>
<rect x="339" y="443" width="1" height="41" fill="#000090"/>
<rect x="343" y="441" width="1" height="43" fill="#000090"/>
<rect x="347" y="440" width="1" height="44" fill="#000090"/>
<rect x="351" y="443" width="1" height="41" fill="#000090"/>
<rect x="355" y="447" width="1" height="37" fill="#000090"/>
<rect x="359" y="450" width="1" height="34" fill="#000090"/>
<rect x="363" y="452" width="1" height="32" fill="#000090"/>
<rect x="367" y="455" width="1" height="29" fill="#000090"/>
<rect x="371" y="459" width="1" height="25" fill="#000090"/>
<rect x="375" y="461" width="1" height="23" fill="#000090"/>
<rect x="379" y="461" width="1" height="23" fill="#000090"/>
<rect x="383" y="461" width="1" height="23" fill="#000090"/>
<rect x="387" y="463" width="1" height="21" fill="#000090"/>
<rect x="391" y="468" width="1" height="16" fill="#000090"/>
<rect x="395" y="472" width="1" height="12" fill="#000090"/>
<rect x="399" y="472" width="1" height="12" fill="#000090"/>
<rect x="403" y="470" width="1" height="14" fill="#000090"/>
<rect x="407" y="470" width="1" height="14" fill="#000090"/>
<rect x="411" y="470" width="1" height="14" fill="#000090"/>
<rect x="415" y="471" width="1" height="13" fill="#000090"/>
<rect x="419" y="476" width="1" height="8" fill="#000090"/>
<rect x="423" y="480" width="1" height="4" fill="#000090"/>
<rect x="427" y="483" width="1" height="1" fill="#000090"/>
<rect x="431" y="483" width="1" height="1" fill="#000090"/>
<rect x="435" y="483" width="1" height="1" fill="#000090"/>
<rect x="439" y="482" width="1" height="2" fill="#000090"/>
<rect x="443" y="480" width="1" height="4" fill="#000090"/>
<rect x="447" y="475" width="1" height="9" fill="#000090"/>
<rect x="451" y="468" width="1" height="16" fill="#000090"/>
<rect x="455" y="460" width="1" height="24" fill="#000090"/>
<rect x="459" y="454" width="1" height="30" fill="#000090"/>
<rect x="463" y="452" width="1" height="32" fill="#000090"/>
<rect x="467" y="445" width="1" height="39" fill="#000090"/>
<rect x="471" y="447" width="1" height="37" fill="#000090"/>
<rect x="475" y="450" width="1" height="34" fill="#000090"/>
<rect x="479" y="453" width="1" height="31" fill="#000090"/>
<rect x="483" y="454" width="1" height="30" fill="#000090"/>
<rect x="487" y="452" width="1" height="32" fill="#000090"/>
<rect x="491" y="446" width="1" height="38" fill="#000090"/>
<rect x="495" y="437" width="1" height="47" fill="#000090"/>
<rect x="499" y="436" width="1" height="48" fill="#000090"/>
<rect x="503" y="434" width="1" height="50" fill="#000090"/>
<rect x="507" y="436" width="1" height="48" fill="#000090"/>
<rect x="511" y="436" width="1" height="48" fill="#000090"/>
<rect x="515" y="437" width="1" height="47" fill="#000090"/>
<rect x="519" y="439" width="1" height="45" fill="#000090"/>
<rect x="523" y="434" width="1" height="50" fill="#000090"/>
<rect x="527" y="429" width="1" height="55" fill="#000090"/>
<rect x="531" y="425" width="1" height="59" fill="#000090"/>
<rect x="535" y="430" width="1" height="54" fill="#000090"/>
<rect x="539" y="436" width="1" height="48" fill="#000090"/>
<rect x="543" y="440" width="1" height="44" fill="#000090"/>
<rect x="547" y="444" width="1" height="40" fill="#000090"/>
<rect x="551" y="452" width="1" height="32" fill="#000090"/>
<rect x="555" y="457" width="1" height="27" fill="#000090"/>
<rect x="559" y="466" width="1" height="18" fill="#000090"/>
<rect x="563" y="468" width="1" height="16" fill="#000090"/>
<rect x="567" y="470" width="1" height="14" fill="#000090"/>
<rect x="571" y="474" width="1" height="10" fill="#000090"/>
<rect x="575" y="480" width="1" height="4" fill="#000090"/>
<rect x="579" y="482" width="1" height="2" fill="#000090"/>
<rect x="583" y="483" width="1" height="1" fill="#000090"/>
<rect x="587" y="484" width="1" height="7" fill="#000090"/>
<rect x="591" y="484" width="1" height="23" fill="#000090"/>
<rect x="595" y="484" width="1" height="33" fill="#000090"/>
<rect x="599" y="484" width="1" height="41" fill="#000090"/>
<rect x="603" y="484" width="1" height="47" fill="#000090"/>
<rect x="607" y="484" width="1" height="58" fill="#000090"/>
<rect x="611" y="484" width="1" height="65" fill="#000090"/>
<rect x="615" y="484" width="1" height="70" fill="#000090"/>
<rect x="619" y="484" width="1" height="64" fill="#000090"/>
<rect x="623" y="484" width="1" height="57" fill="#000090"/>
<rect x="627" y="484" width="1" height="52" fill="#000090"/>
<rect x="631" y="484" width="1" height="47" fill="#000090"/>
<rect x="635" y="484" width="1" height="41" fill="#000090"/>
<rect x="639" y="484" width="1" height="33" fill="#000090"/>
<rect x="643" y="484" width="1" height="26" fill="#000090"/>
<rect x="647" y="484" width="1" height="24" fill="#000090"/>
<rect x="651" y="484" width="1" height="22" fill="#000090"/>
<rect x="655" y="484" width="1" height="19" fill="#000090"/>
<rect x="659" y="484" width="1" height="23" fill="#000090"/>
<rect x="663" y="484" width="1" height="29" fill="#000090"/>
<rect x="667" y="484" width="1" height="31" fill="#000090"/>
<rect x="671" y="484" width="1" height="31" fill="#000090"/>
<rect x="675" y="484" width="1" height="27" fill="#000090"/>
<rect x="679" y="484" width="1" height="27" fill="#000090"/>
<rect x="683" y="484" width="1" height="27" fill="#000090"/>
<rect x="687" y="484" width="1" height="25" fill="#000090"/>
<rect x="691" y="484" width="1" height="19" fill="#000090"/>
<rect x="695" y="484" width="1" height="12" fill="#000090"/>
<rect x="699" y="484" width="1" height="6" fill="#000090"/>
<rect x="703" y="484" width="1" height="1" fill="#000090"/>
<rect x="707" y="482" width="1" height="2" fill="#000090"/>
<rect x="711" y="477" width="1" height="7" fill="#000090"/>
<rect x="715" y="469" width="1" height="15" fill="#000090"/>
<rect x="719" y="459" width="1" height="25" fill="#000090"/>
<rect x="723" y="460" width="1" height="24" fill="#000090"/>
<rect x="727" y="459" width="1" height="25" fill="#000090"/>
<rect x="731" y="454" width="1" height="30" fill="#000090"/>
<rect x="735" y="455" width="1" height="29" fill="#000090"/>
<rect x="739" y="459" width="1" height="25" fill="#000090"/>
<rect x="743" y="461" width="1" height="23" fill="#000090"/>
<rect x="747" y="457" width="1" height="27" fill="#000090"/>
<rect x="751" y="457" width="1" height="27" fill="#000090"/>
<rect x="755" y="455" width="1" height="29" fill="#000090"/>
<rect x="759" y="456" width="1" height="28" fill="#000090"/>
<rect x="763" y="464" width="1" height="20" fill="#000090"/>
<rect x="767" y="476" width="1" height="8" fill="#000090"/>
<rect x="771" y="482" width="1" height="2" fill="#000090"/>
<rect x="775" y="483" width="1" height="1" fill="#000090"/>
<rect x="779" y="478" width="1" height="6" fill="#000090"/>
<rect x="783" y="466" width="1" height="18" fill="#000090"/>
<rect x="787" y="455" width="1" height="29" fill="#000090"/>
<rect x="791" y="446" width="1" height="38" fill="#000090"/>
<rect x="795" y="438" width="1" height="46" fill="#000090"/>
<rect x="799" y="429" width="1" height="55" fill="#000090"/>
<rect x="803" y="419" width="1" height="65" fill="#000090"/>
<rect x="807" y="412" width="1" height="72" fill="#000090"/>
<rect x="811" y="406" width="1" height="78" fill="#000090"/>
<rect x="815" y="411" width="1" height="73" fill="#000090"/>
<rect x="819" y="414" width="1" height="70" fill="#000090"/>
<rect x="823" y="412" width="1" height="72" fill="#000090"/>
<rect x="827" y="412" width="1" height="72" fill="#000090"/>
<rect x="831" y="413" width="1" height="71" fill="#000090"/>
<rect x="835" y="413" width="1" height="71" fill="#000090"/>
<rect x="839" y="411" width="1" height="73" fill="#000090"/>
<rect x="843" y="403" width="1" height="81" fill="#000090"/>
<rect x="847" y="397" width="1" height="87" fill="#000090"/>
<rect x="851" y="400" width="1" height="84" fill="#000090"/>
<rect x="855" y="404" width="1" height="80" fill="#000090"/>
<rect x="859" y="404" width="1" height="80" fill="#000090"/>
<rect x="863" y="402" width="1" height="82" fill="#000090"/>
<rect x="867" y="402" width="1" height="82" fill="#000090"/>
<rect x="871" y="398" width="1" height="86" fill="#000090"/>
<rect x="875" y="393" width="1" height="91" fill="#000090"/>
<rect x="879" y="390" width="1" height="94" fill="#000090"/>
<rect x="883" y="388" width="1" height="96" fill="#000090"/>
<rect x="887" y="389" width="1" height="95" fill="#000090"/>
<rect x="891" y="390" width="1" height="94" fill="#000090"/>
<rect x="895" y="394" width="1" height="90" fill="#000090"/>
<rect x="899" y="399" width="1" height="85" fill="#000090"/>
<rect x="903" y="406" width="1" height="78" fill="#000090"/>
<rect x="907" y="411" width="1" height="73" fill="#000090"/>
<rect x="911" y="416" width="1" height="68" fill="#000090"/>
<rect x="915" y="423" width="1" height="61" fill="#000090"/>
<rect x="919" y="431" width="1" height="53" fill="#000090"/>
<rect x="923" y="440" width="1" height="44" fill="#000090"/>
<rect x="927" y="446" width="1" height="38" fill="#000090"/>
<rect x="931" y="452" width="1" height="32" fill="#000090"/>
<rect x="935" y="454" width="1" height="30" fill="#000090"/>
<rect x="939" y="458" width="1" height="26" fill="#000090"/>
<rect x="943" y="465" width="1" height="19" fill="#000090"/>
<rect x="947" y="468" width="1" height="16" fill="#000090"/>
<rect x="951" y="472" width="1" height="12" fill="#000090"/>
<rect x="955" y="477" width="1" height="7" fill="#000090"/>
<rect x="959" y="482" width="1" height="2" fill="#000090"/>
<rect x="963" y="484" width="1" height="1" fill="#000090"/>
<rect x="967" y="480" width="1" height="4" fill="#000090"/>
<rect x="971" y="476" width="1" height="8" fill="#000090"/>
<rect x="975" y="472" width="1" height="12" fill="#000090"/>
<rect x="979" y="470" width="1" height="14" fill="#000090"/>
<rect x="983" y="467" width="1" height="17" fill="#000090"/>
<rect x="987" y="463" width="1" height="21" fill="#000090"/>
<rect x="991" y="466" width="1" height="18" fill="#000090"/>
<rect x="995" y="469" width="1" height="15" fill="#000090"/>
<rect x="999" y="470" width="1" height="14" fill="#000090"/>
<path d="M893 393.5h12M889 394.5h4M905 394.5h3M885 395.5h4M881 396.5h4M909 396.5h2M878 397.5h3M876 398.5h2M874 399.5h2M249 400.5h11M872 400.5h2M246 401.5h3M870 401.5h2M244 402.5h2M868 402.5h2M242 403.5h2M865 403.5h3M240 404.5h2M861 404.5h4M237 405.5h3M853 405.5h8M234 406.5h3M850 406.5h3M232 407.5h2M848 407.5h2M230 408.5h2M845 408.5h3M228 409.5h2M841 409.5h4M217 410.5h11M838 410.5h3M213 411.5h4M836 411.5h2M211 412.5h2M833 412.5h3M830 413.5h3M828 414.5h2M533 432.5h8M529 433.5h4M541 433.5h4M102 434.5h2M526 434.5h3M545 434.5h4M53 435.5h8M100 435.5h2M104 435.5h2M524 435.5h2M549 435.5h3M45 436.5h8M61 436.5h16M97 436.5h3M106 436.5h2M521 436.5h3M552 436.5h2M41 437.5h4M77 437.5h4M85 437.5h12M518 437.5h3M554 437.5h2M38 438.5h3M81 438.5h4M109 438.5h2M516 438.5h2M36 439.5h2M514 439.5h2M512 440.5h2M510 441.5h2M349 442.5h8M508 442.5h2M346 443.5h3M357 443.5h4M506 443.5h2M344 444.5h2M361 444.5h4M504 444.5h2M365 445.5h4M501 445.5h3M341 446.5h2M369 446.5h3M498 446.5h3M372 447.5h2M496 447.5h2M374 448.5h2M493 448.5h3M337 449.5h2M376 449.5h2M490 449.5h3M378 450.5h2M488 450.5h2M380 451.5h2M486 451.5h2M333 452.5h2M382 452.5h2M484 452.5h2M482 453.5h2M385 454.5h2M480 454.5h2M329 455.5h2M388 456.5h2M477 456.5h2M753 456.5h11M390 457.5h2M749 457.5h4M325 458.5h2M746 458.5h3M765 458.5h2M301 459.5h2M393 459.5h2M744 459.5h2M322 460.5h2M304 461.5h2M320 461.5h2M396 461.5h2M741 461.5h2M769 461.5h2M306 462.5h2M318 462.5h2M398 462.5h2M308 463.5h2M316 463.5h2M400 463.5h2M772 463.5h2M310 464.5h6M402 464.5h3M737 464.5h2M774 464.5h2M793 464.5h3M405 465.5h3M776 465.5h2M790 465.5h3M408 466.5h2M778 466.5h7M788 466.5h2M410 467.5h3M785 467.5h3M413 468.5h4M417 469.5h3M964 469.5h2M998 469.5h2M420 470.5h2M966 470.5h2M996 470.5h2M422 471.5h2M461 471.5h2M993 471.5h3M424 472.5h2M969 472.5h2M990 472.5h3M426 473.5h3M971 473.5h2M988 473.5h2M429 474.5h4M457 474.5h2M973 474.5h4M985 474.5h3M433 475.5h4M977 475.5h8M437 476.5h4M453 476.5h3M441 477.5h4M449 477.5h4M445 478.5h4M705 501.5h2M697 507.5h3M693 508.5h4M670 509.5h15M689 509.5h4M668 510.5h2M685 510.5h4M665 511.5h3M663 512.5h2M661 513.5h2M158 518.5h2M149 519.5h2M156 519.5h2M151 520.5h5M628 538.5h2M637 538.5h3M630 539.5h7M3.5 478v1M4.5 476v2M5.5 474v2M6.5 472v2M7.5 471v1M8.5 470v1M9.5 469v1M10.5 468v1M11.5 467v1M12.5 466v1M13.5 465v1M14.5 464v1M15.5 463v1M16.5 461v2M17.5 460v1M18.5 458v2M19.5 457v1M20.5 456v1M21.5 454v2M22.5 453v1M23.5 452v1M24.5 451v1M25.5 450v1M26.5 449v1M27.5 448v1M28.5 447v1M29.5 446v1M30.5 445v1M31.5 444v1M32.5 443v1M33.5 442v1M34.5 441v1M35.5 440v1M108.5 437v1M111.5 439v1M112.5 440v1M113.5 441v2M114.5 443v1M115.5 444v1M116.5 445v2M117.5 447v2M118.5 449v2M119.5 451v1M120.5 452v2M121.5 454v2M122.5 456v2M123.5 458v3M124.5 461v2M125.5 463v2M126.5 465v2M127.5 467v3M128.5 470v3M129.5 473v2M130.5 475v3M131.5 478v3M132.5 481v3M133.5 484v4M134.5 488v3M135.5 491v3M136.5 494v2M137.5 496v3M138.5 499v2M139.5 501v2M140.5 503v2M141.5 505v2M142.5 507v2M143.5 509v2M144.5 511v2M145.5 513v2M146.5 515v2M147.5 517v1M148.5 518v1M160.5 517v1M161.5 515v2M162.5 514v1M163.5 513v1M164.5 512v1M165.5 511v1M166.5 510v1M167.5 509v1M168.5 507v2M169.5 505v2M170.5 503v2M171.5 500v3M172.5 498v2M173.5 496v2M174.5 494v2M175.5 491v3M176.5 489v2M177.5 486v3M178.5 484v2M179.5 481v3M180.5 478v3M181.5 474v4M182.5 471v3M183.5 468v3M184.5 465v3M185.5 463v2M186.5 460v3M187.5 457v3M188.5 455v2M189.5 452v3M190.5 450v2M191.5 447v3M192.5 444v3M193.5 442v2M194.5 439v3M195.5 437v2M196.5 435v2M197.5 433v2M198.5 431v2M199.5 430v1M200.5 428v2M201.5 426v2M202.5 424v2M203.5 423v1M204.5 421v2M205.5 420v1M206.5 418v2M207.5 417v1M208.5 416v1M209.5 414v2M210.5 413v1M260.5 401v1M261.5 402v1M262.5 403v1M263.5 404v1M264.5 405v1M265.5 406v1M266.5 407v1M267.5 408v1M268.5 409v1M269.5 410v2M270.5 412v1M271.5 413v1M272.5 414v1M273.5 415v2M274.5 417v1M275.5 418v1M276.5 419v2M277.5 421v1M278.5 422v2M279.5 424v1M280.5 425v2M281.5 427v2M282.5 429v2M283.5 431v2M284.5 433v2M285.5 435v2M286.5 437v2M287.5 439v2M288.5 441v2M289.5 443v1M290.5 444v2M291.5 446v1M292.5 447v2M293.5 449v1M294.5 450v2M295.5 452v1M296.5 453v1M297.5 454v2M298.5 456v1M299.5 457v1M300.5 458v1M303.5 460v1M324.5 459v1M327.5 457v1M328.5 456v1M331.5 454v1M332.5 453v1M335.5 451v1M336.5 450v1M339.5 448v1M340.5 447v1M343.5 445v1M384.5 453v1M387.5 455v1M392.5 458v1M395.5 460v1M456.5 475v1M459.5 473v1M460.5 472v1M463.5 470v1M464.5 469v1M465.5 468v1M466.5 467v1M467.5 466v1M468.5 465v1M469.5 464v1M470.5 463v1M471.5 462v1M472.5 461v1M473.5 460v1M474.5 459v1M475.5 458v1M476.5 457v1M479.5 455v1M556.5 438v1M557.5 439v1M558.5 440v1M559.5 441v1M560.5 442v1M561.5 443v1M562.5 444v1M563.5 445v1M564.5 446v1M565.5 447v1M566.5 448v1M567.5 449v1M568.5 450v1M569.5 451v2M570.5 453v1M571.5 454v1M572.5 455v1M573.5 456v2M574.5 458v1M575.5 459v1M576.5 460v1M577.5 461v2M578.5 463v1M579.5 464v1M580.5 465v1M581.5 466v2M582.5 468v1M583.5 469v1M584.5 470v1M585.5 471v2M586.5 473v1M587.5 474v1M588.5 475v1M589.5 476v2M590.5 478v1M591.5 479v1M592.5 480v2M593.5 482v1M594.5 483v2M595.5 485v1M596.5 486v2M597.5 488v1M598.5 489v2M599.5 491v1M600.5 492v2M601.5 494v2M602.5 496v2M603.5 498v2M604.5 500v2M605.5 502v2M606.5 504v2M607.5 506v2M608.5 508v2M609.5 510v2M610.5 512v2M611.5 514v2M612.5 516v2M613.5 518v2M614.5 520v2M615.5 522v1M616.5 523v2M617.5 525v2M618.5 527v2M619.5 529v1M620.5 530v1M621.5 531v1M622.5 532v1M623.5 533v1M624.5 534v1M625.5 535v1M626.5 536v1M627.5 537v1M640.5 537v1M641.5 536v1M642.5 535v1M643.5 534v1M644.5 533v1M645.5 531v2M646.5 530v1M647.5 529v1M648.5 528v1M649.5 526v2M650.5 525v1M651.5 524v1M652.5 523v1M653.5 521v2M654.5 520v1M655.5 519v1M656.5 518v1M657.5 517v1M658.5 516v1M659.5 515v1M660.5 514v1M700.5 506v1M701.5 505v1M702.5 504v1M703.5 503v1M704.5 502v1M707.5 500v1M708.5 499v1M709.5 498v1M710.5 497v1M711.5 496v1M712.5 495v1M713.5 493v2M714.5 492v1M715.5 491v1M716.5 489v2M717.5 488v1M718.5 486v2M719.5 485v1M720.5 484v1M721.5 482v2M722.5 481v1M723.5 480v1M724.5 479v1M725.5 477v2M726.5 476v1M727.5 475v1M728.5 474v1M729.5 472v2M730.5 471v1M731.5 470v1M732.5 469v1M733.5 468v1M734.5 467v1M735.5 466v1M736.5 465v1M739.5 463v1M740.5 462v1M743.5 460v1M764.5 457v1M767.5 459v1M768.5 460v1M771.5 462v1M796.5 463v1M797.5 462v1M798.5 461v1M799.5 460v1M800.5 458v2M801.5 457v1M802.5 455v2M803.5 454v1M804.5 452v2M805.5 450v2M806.5 448v2M807.5 446v2M808.5 444v2M809.5 442v2M810.5 440v2M811.5 438v2M812.5 436v2M813.5 434v2M814.5 432v2M815.5 430v2M816.5 428v2M817.5 427v1M818.5 425v2M819.5 424v1M820.5 423v1M821.5 421v2M822.5 420v1M823.5 419v1M824.5 418v1M825.5 417v1M826.5 416v1M827.5 415v1M908.5 395v1M911.5 397v1M912.5 398v1M913.5 399v1M914.5 400v1M915.5 401v1M916.5 402v1M917.5 403v1M918.5 404v1M919.5 405v1M920.5 406v2M921.5 408v2M922.5 410v2M923.5 412v1M924.5 413v2M925.5 415v1M926.5 416v2M927.5 418v1M928.5 419v2M929.5 421v2M930.5 423v2M931.5 425v1M932.5 426v2M933.5 428v1M934.5 429v2M935.5 431v1M936.5 432v1M937.5 433v2M938.5 435v1M939.5 436v1M940.5 437v2M941.5 439v1M942.5 440v2M943.5 442v1M944.5 443v2M945.5 445v1M946.5 446v2M947.5 448v1M948.5 449v2M949.5 451v1M950.5 452v2M951.5 454v1M952.5 455v1M953.5 456v1M954.5 457v1M955.5 458v1M956.5 459v1M957.5 460v2M958.5 462v1M959.5 463v1M960.5 464v1M961.5 465v2M962.5 467v1M963.5 468v1M968.5 471v1" stroke="#000" stroke-width="1" fill="none"/>
<path d="M882 387.5h3M880 388.5h2M885 388.5h4M889 389.5h3M877 390.5h2M239 395.5h5M245 397.5h2M229 398.5h4M849 398.5h2M227 399.5h2M233 399.5h3M249 400.5h2M862 401.5h6M860 402.5h2M855 403.5h5M190 405.5h2M222 405.5h2M188 406.5h2M192 406.5h2M220 406.5h2M194 407.5h2M218 407.5h2M216 408.5h2M213 410.5h2M838 410.5h2M822 411.5h7M836 411.5h2M817 412.5h2M820 412.5h2M829 412.5h7M201 416.5h2M205 416.5h3M203 417.5h2M93 428.5h7M91 429.5h2M101 430.5h2M55 432.5h6M23 433.5h6M33 433.5h3M61 433.5h3M502 433.5h2M21 434.5h2M29 434.5h4M36 434.5h2M500 434.5h2M504 434.5h2M38 435.5h2M497 435.5h3M506 435.5h7M495 436.5h2M513 436.5h3M516 437.5h2M518 438.5h2M69 439.5h2M345 439.5h3M342 440.5h3M45 441.5h3M340 441.5h2M349 441.5h2M43 442.5h2M333 442.5h7M268 443.5h2M323 443.5h10M270 444.5h2M75 445.5h5M468 445.5h2M470 446.5h2M357 448.5h2M473 448.5h2M277 450.5h2M360 450.5h2M362 451.5h2M462 451.5h2M477 451.5h2M486 451.5h2M460 452.5h2M479 452.5h2M484 452.5h2M932 452.5h2M365 453.5h2M481 453.5h3M731 453.5h2M934 453.5h2M733 454.5h3M754 454.5h3M752 455.5h2M757 455.5h3M747 456.5h5M719 458.5h2M725 458.5h3M372 459.5h2M721 459.5h4M740 459.5h2M374 460.5h10M742 460.5h2M384 461.5h2M386 462.5h2M288 464.5h2M989 464.5h2M290 465.5h2M560 466.5h2M945 466.5h2M293 467.5h2M562 467.5h2M981 467.5h2M993 467.5h2M564 468.5h2M995 468.5h2M402 469.5h11M566 469.5h2M978 469.5h2M997 469.5h3M400 470.5h2M413 470.5h3M976 470.5h2M395 471.5h5M301 472.5h2M442 479.5h2M440 480.5h2M576 480.5h2M425 481.5h2M437 481.5h3M578 481.5h3M771 481.5h2M427 482.5h10M581 482.5h3M773 482.5h3M653 504.5h2M650 506.5h2M648 507.5h2M646 508.5h2M644 509.5h2M686 509.5h2M684 510.5h2M675 511.5h9M664 514.5h2M666 515.5h6M125 517.5h2M137 531.5h2M3.5 459v2M4.5 457v2M5.5 455v2M6.5 453v2M7.5 451v2M8.5 449v2M9.5 448v1M10.5 446v2M11.5 445v1M12.5 444v1M13.5 442v2M14.5 441v1M15.5 440v1M16.5 439v1M17.5 438v1M18.5 437v1M19.5 436v1M20.5 435v1M40.5 436v2M41.5 438v2M42.5 440v2M48.5 440v1M49.5 439v1M50.5 438v1M51.5 437v1M52.5 436v1M53.5 434v2M54.5 433v1M64.5 434v1M65.5 435v1M66.5 436v1M67.5 437v1M68.5 438v1M71.5 440v1M72.5 441v1M73.5 442v2M74.5 444v1M80.5 443v2M81.5 442v1M82.5 440v2M83.5 439v1M84.5 438v1M85.5 436v2M86.5 435v1M87.5 434v1M88.5 433v1M89.5 431v2M90.5 430v1M100.5 429v1M103.5 431v3M104.5 434v5M105.5 439v4M106.5 443v5M107.5 448v5M108.5 453v6M109.5 459v6M110.5 465v6M111.5 471v5M112.5 476v4M113.5 480v5M114.5 485v4M115.5 489v4M116.5 493v3M117.5 496v3M118.5 499v3M119.5 502v3M120.5 505v3M121.5 508v3M122.5 511v3M123.5 514v2M124.5 516v1M127.5 518v1M128.5 519v2M129.5 521v1M130.5 522v2M131.5 524v1M132.5 525v1M133.5 526v2M134.5 528v1M135.5 529v1M136.5 530v1M139.5 532v1M140.5 531v1M141.5 530v1M142.5 529v1M143.5 528v1M144.5 526v2M145.5 525v1M146.5 523v2M147.5 521v2M148.5 519v2M149.5 517v2M150.5 515v2M151.5 512v3M152.5 509v3M153.5 505v4M154.5 502v3M155.5 499v3M156.5 497v2M157.5 494v3M158.5 492v2M159.5 490v2M160.5 488v2M161.5 486v2M162.5 484v2M163.5 481v3M164.5 479v2M165.5 477v2M166.5 475v2M167.5 473v2M168.5 471v2M169.5 469v2M170.5 467v2M171.5 466v1M172.5 464v2M173.5 463v1M174.5 461v2M175.5 458v3M176.5 452v6M177.5 447v5M178.5 441v6M179.5 436v5M180.5 431v5M181.5 425v6M182.5 420v5M183.5 416v4M184.5 414v2M185.5 411v3M186.5 409v2M187.5 407v2M196.5 408v2M197.5 410v2M198.5 412v2M199.5 414v1M200.5 415v1M208.5 415v1M209.5 414v1M210.5 413v1M211.5 412v1M212.5 411v1M215.5 409v1M224.5 403v2M225.5 402v1M226.5 400v2M236.5 398v1M237.5 397v1M238.5 396v1M244.5 396v1M247.5 398v1M248.5 399v1M251.5 401v1M252.5 402v1M253.5 403v2M254.5 405v1M255.5 406v1M256.5 407v2M257.5 409v2M258.5 411v2M259.5 413v2M260.5 415v4M261.5 419v4M262.5 423v4M263.5 427v3M264.5 430v4M265.5 434v3M266.5 437v4M267.5 441v2M272.5 445v1M273.5 446v1M274.5 447v1M275.5 448v1M276.5 449v1M279.5 451v1M280.5 452v2M281.5 454v2M282.5 456v2M283.5 458v1M284.5 459v1M285.5 460v2M286.5 462v1M287.5 463v1M292.5 466v1M295.5 468v1M296.5 469v2M297.5 471v1M298.5 472v2M299.5 474v1M300.5 473v1M303.5 471v1M304.5 469v2M305.5 467v2M306.5 465v2M307.5 464v1M308.5 463v1M309.5 461v2M310.5 460v1M311.5 459v1M312.5 457v2M313.5 456v1M314.5 454v2M315.5 453v1M316.5 452v1M317.5 451v1M318.5 450v1M319.5 449v1M320.5 447v2M321.5 446v1M322.5 444v2M348.5 440v1M351.5 442v1M352.5 443v1M353.5 444v1M354.5 445v1M355.5 446v1M356.5 447v1M359.5 449v1M364.5 452v1M367.5 454v1M368.5 455v1M369.5 456v1M370.5 457v1M371.5 458v1M388.5 463v1M389.5 464v2M390.5 466v1M391.5 467v1M392.5 468v1M393.5 469v1M394.5 470v1M416.5 471v1M417.5 472v2M418.5 474v1M419.5 475v1M420.5 476v1M421.5 477v1M422.5 478v1M423.5 479v1M424.5 480v1M444.5 478v1M445.5 476v2M446.5 475v1M447.5 474v1M448.5 472v2M449.5 470v2M450.5 468v2M451.5 467v1M452.5 465v2M453.5 463v2M454.5 461v2M455.5 459v2M456.5 457v2M457.5 456v1M458.5 454v2M459.5 453v1M464.5 449v2M465.5 447v2M466.5 445v2M467.5 444v1M472.5 447v1M475.5 449v1M476.5 450v1M488.5 449v2M489.5 448v1M490.5 446v2M491.5 444v2M492.5 442v2M493.5 440v2M494.5 438v2M495.5 437v1M520.5 437v1M521.5 435v2M522.5 434v1M523.5 433v1M524.5 432v1M525.5 430v2M526.5 429v1M527.5 428v1M528.5 427v1M529.5 426v1M530.5 425v1M531.5 424v1M532.5 425v1M533.5 426v2M534.5 428v1M535.5 429v1M536.5 430v2M537.5 432v1M538.5 433v2M539.5 435v1M540.5 436v1M541.5 437v1M542.5 438v1M543.5 439v1M544.5 440v1M545.5 441v1M546.5 442v1M547.5 443v1M548.5 444v2M549.5 446v2M550.5 448v2M551.5 450v2M552.5 452v1M553.5 453v2M554.5 455v1M555.5 456v2M556.5 458v2M557.5 460v2M558.5 462v2M559.5 464v2M568.5 470v1M569.5 471v1M570.5 472v1M571.5 473v1M572.5 474v2M573.5 476v1M574.5 477v2M575.5 479v1M583.5 483v1M584.5 484v2M585.5 486v2M586.5 488v2M587.5 490v3M588.5 493v4M589.5 497v4M590.5 501v4M591.5 505v4M592.5 509v2M593.5 511v3M594.5 514v2M595.5 516v2M596.5 518v2M597.5 520v2M598.5 522v2M599.5 524v2M600.5 526v2M601.5 528v1M602.5 529v2M603.5 531v2M604.5 533v3M605.5 536v2M606.5 538v3M607.5 541v2M608.5 543v2M609.5 545v2M610.5 547v2M611.5 549v1M612.5 550v1M613.5 551v2M614.5 553v1M615.5 554v1M616.5 552v2M617.5 551v1M618.5 549v2M619.5 548v1M620.5 546v2M621.5 544v2M622.5 542v2M623.5 541v1M624.5 540v1M625.5 538v2M626.5 537v1M627.5 536v1M628.5 535v1M629.5 533v2M630.5 532v1M631.5 531v1M632.5 529v2M633.5 528v1M634.5 526v2M635.5 525v1M636.5 523v2M637.5 521v2M638.5 519v2M639.5 517v2M640.5 515v2M641.5 513v2M642.5 511v2M643.5 510v1M652.5 505v1M655.5 503v1M656.5 504v1M657.5 505v1M658.5 506v1M659.5 507v1M660.5 508v2M661.5 510v1M662.5 511v2M663.5 513v1M672.5 514v1M673.5 513v1M674.5 512v1M688.5 507v2M689.5 506v1M690.5 504v2M691.5 503v1M692.5 501v2M693.5 499v2M694.5 497v2M695.5 496v1M696.5 494v2M697.5 493v1M698.5 491v2M699.5 490v1M700.5 489v1M701.5 487v2M702.5 486v1M703.5 485v1M704.5 484v1M705.5 483v1M706.5 482v1M707.5 481v1M708.5 480v1M709.5 478v2M710.5 477v1M711.5 476v1M712.5 474v2M713.5 472v2M714.5 470v2M715.5 467v3M716.5 465v2M717.5 462v3M718.5 460v2M719.5 459v1M728.5 457v1M729.5 455v2M730.5 454v1M736.5 455v1M737.5 456v1M738.5 457v1M739.5 458v1M744.5 459v1M745.5 458v1M746.5 457v1M760.5 456v2M761.5 458v2M762.5 460v2M763.5 462v3M764.5 465v3M765.5 468v3M766.5 471v3M767.5 474v2M768.5 476v2M769.5 478v1M770.5 479v2M776.5 481v1M777.5 479v2M778.5 478v1M779.5 476v2M780.5 473v3M781.5 470v3M782.5 467v3M783.5 464v3M784.5 461v3M785.5 459v2M786.5 456v3M787.5 453v3M788.5 451v2M789.5 449v2M790.5 447v2M791.5 445v2M792.5 443v2M793.5 441v2M794.5 439v2M795.5 436v3M796.5 434v2M797.5 432v2M798.5 430v2M799.5 427v3M800.5 425v2M801.5 422v3M802.5 420v2M803.5 418v2M804.5 416v2M805.5 414v2M806.5 412v2M807.5 411v1M808.5 409v2M809.5 408v1M810.5 406v2M811.5 405v1M812.5 406v1M813.5 407v2M814.5 409v1M815.5 410v1M816.5 411v1M819.5 413v1M840.5 408v2M841.5 406v2M842.5 404v2M843.5 402v2M844.5 400v2M845.5 399v1M846.5 397v2M847.5 396v1M848.5 397v1M851.5 399v1M852.5 400v1M853.5 401v1M854.5 402v1M868.5 400v1M869.5 399v1M870.5 398v1M871.5 397v1M872.5 396v1M873.5 394v2M874.5 393v1M875.5 392v1M876.5 391v1M879.5 389v1M892.5 390v1M893.5 391v1M894.5 392v1M895.5 393v1M896.5 394v1M897.5 395v2M898.5 397v1M899.5 398v1M900.5 399v2M901.5 401v2M902.5 403v2M903.5 405v1M904.5 406v1M905.5 407v2M906.5 409v1M907.5 410v1M908.5 411v1M909.5 412v2M910.5 414v1M911.5 415v1M912.5 416v2M913.5 418v2M914.5 420v2M915.5 422v1M916.5 423v2M917.5 425v2M918.5 427v2M919.5 429v3M920.5 432v2M921.5 434v2M922.5 436v2M923.5 438v2M924.5 440v2M925.5 442v1M926.5 443v2M927.5 445v1M928.5 446v2M929.5 448v1M930.5 449v2M931.5 451v1M936.5 454v1M937.5 455v1M938.5 456v1M939.5 457v1M940.5 458v2M941.5 460v2M942.5 462v2M943.5 464v1M944.5 465v1M947.5 467v1M948.5 468v1M949.5 469v1M950.5 470v1M951.5 471v1M952.5 472v1M953.5 473v2M954.5 475v1M955.5 476v1M956.5 477v1M957.5 478v2M958.5 480v1M959.5 481v1M960.5 482v1M961.5 483v1M962.5 484v1M963.5 485v1M964.5 483v2M965.5 482v1M966.5 480v2M967.5 479v1M968.5 478v1M969.5 477v1M970.5 476v1M971.5 475v1M972.5 474v1M973.5 473v1M974.5 472v1M975.5 471v1M980.5 468v1M983.5 466v1M984.5 465v1M985.5 464v1M986.5 463v1M987.5 462v1M988.5 463v1M991.5 465v1M992.5 466v1" stroke="#cccccc" stroke-width="1" fill="none"/>
<rect x="2" y="2" width="1010" height="1" fill="#000"/>
<rect x="2" y="375" width="1010" height="1" fill="#000"/>
<rect x="2" y="2" width="1" height="374" fill="#000"/>
<rect x="2" y="377" width="1010" height="1" fill="#000"/>
<rect x="2" y="563" width="1010" height="1" fill="#000"/>
<rect x="2" y="377" width="1" height="187" fill="#000"/>
<rect x="1011" y="2" width="1" height="562" fill="#000"/>
<rect x="1012" y="9" width="2" height="1" fill="#000"/>
<rect x="1012" y="42" width="2" height="1" fill="#000"/>
<rect x="1012" y="75" width="2" height="1" fill="#000"/>
<rect x="1012" y="108" width="2" height="1" fill="#000"/>
<rect x="1012" y="141" width="2" height="1" fill="#000"/>
<rect x="1012" y="174" width="2" height="1" fill="#000"/>
<rect x="1012" y="207" width="2" height="1" fill="#000"/>
<rect x="1012" y="240" width="2" height="1" fill="#000"/>
<rect x="1012" y="273" width="2" height="1" fill="#000"/>
<rect x="1012" y="306" width="2" height="1" fill="#000"/>
<rect x="1012" y="339" width="2" height="1" fill="#000"/>
<rect x="1012" y="372" width="2" height="1" fill="#000"/>
<rect x="1012" y="379" width="1" height="1" fill="#000"/>
<rect x="1012" y="483" width="2" height="1" fill="#000"/>
<rect x="1012" y="562" width="1" height="1" fill="#000"/>
<rect x="3" y="564" width="1" height="3" fill="#000"/>
<rect x="67" y="564" width="1" height="3" fill="#000"/>
<rect x="131" y="564" width="1" height="3" fill="#000"/>
<rect x="195" y="564" width="1" height="3" fill="#000"/>
<rect x="259" y="564" width="1" height="3" fill="#000"/>
<rect x="323" y="564" width="1" height="3" fill="#000"/>
<rect x="387" y="564" width="1" height="3" fill="#000"/>
<rect x="451" y="564" width="1" height="3" fill="#000"/>
<rect x="515" y="564" width="1" height="3" fill="#000"/>
<rect x="579" y="564" width="1" height="3" fill="#000"/>
<rect x="643" y="564" width="1" height="3" fill="#000"/>
<rect x="707" y="564" width="1" height="3" fill="#000"/>
<rect x="771" y="564" width="1" height="3" fill="#000"/>
<rect x="835" y="564" width="1" height="3" fill="#000"/>
<rect x="899" y="564" width="1" height="3" fill="#000"/>
<rect x="963" y="564" width="1" height="3" fill="#000"/>
<rect x="1013" y="48" width="42" height="11" fill="#000"/>
<rect x="1013" y="86" width="42" height="11" fill="#ff0000"/>
</svg>
<svg id="tx" width="1057" height="584" viewBox="0 0 1057 584">
<text x="1017" y="13" textLength="33" lengthAdjust="spacingAndGlyphs">0.74560</text>
<text x="1017" y="46" textLength="33" lengthAdjust="spacingAndGlyphs">0.74385</text>
<text x="1017" y="79" textLength="33" lengthAdjust="spacingAndGlyphs">0.74205</text>
<text x="1017" y="112" textLength="33" lengthAdjust="spacingAndGlyphs">0.74030</text>
<text x="1017" y="145" textLength="33" lengthAdjust="spacingAndGlyphs">0.73850</text>
<text x="1017" y="178" textLength="33" lengthAdjust="spacingAndGlyphs">0.73675</text>
<text x="1017" y="211" textLength="33" lengthAdjust="spacingAndGlyphs">0.73500</text>
<text x="1017" y="244" textLength="33" lengthAdjust="spacingAndGlyphs">0.73320</text>
<text x="1017" y="277" textLength="33" lengthAdjust="spacingAndGlyphs">0.73145</text>
<text x="1017" y="310" textLength="33" lengthAdjust="spacingAndGlyphs">0.72965</text>
<text x="1017" y="343" textLength="33" lengthAdjust="spacingAndGlyphs">0.72790</text>
<text x="1017" y="376" textLength="33" lengthAdjust="spacingAndGlyphs">0.72615</text>
<text x="1017" y="57" textLength="33" lengthAdjust="spacingAndGlyphs" class="w">0.74326</text>
<text x="1017" y="95" textLength="33" lengthAdjust="spacingAndGlyphs" class="w">0.74116</text>
<text x="1015" y="388" textLength="38" lengthAdjust="spacingAndGlyphs">0.001494</text>
<text x="1015" y="487" textLength="17" lengthAdjust="spacingAndGlyphs">0.00</text>
<text x="1015" y="560" textLength="40.5" lengthAdjust="spacingAndGlyphs">-0.001137</text>
<text x="2" y="576" textLength="54" lengthAdjust="spacingAndGlyphs">20 Nov 2020</text>
<text x="66" y="576" textLength="56.5" lengthAdjust="spacingAndGlyphs">23 Nov 06:00</text>
<text x="130" y="576" textLength="56.5" lengthAdjust="spacingAndGlyphs">23 Nov 22:00</text>
<text x="194" y="576" textLength="56.5" lengthAdjust="spacingAndGlyphs">24 Nov 14:00</text>
<text x="258" y="576" textLength="56.5" lengthAdjust="spacingAndGlyphs">25 Nov 06:00</text>
<text x="322" y="576" textLength="56.5" lengthAdjust="spacingAndGlyphs">25 Nov 22:00</text>
<text x="386" y="576" textLength="56.5" lengthAdjust="spacingAndGlyphs">26 Nov 14:00</text>
<text x="450" y="576" textLength="56.5" lengthAdjust="spacingAndGlyphs">27 Nov 06:00</text>
<text x="514" y="576" textLength="56.5" lengthAdjust="spacingAndGlyphs">27 Nov 22:00</text>
<text x="578" y="576" textLength="56.5" lengthAdjust="spacingAndGlyphs">30 Nov 15:00</text>
<text x="641.3" y="576" textLength="50.7" lengthAdjust="spacingAndGlyphs">1 Dec 07:00</text>
<text x="705.3" y="576" textLength="50.7" lengthAdjust="spacingAndGlyphs">1 Dec 23:00</text>
<text x="769.3" y="576" textLength="50.7" lengthAdjust="spacingAndGlyphs">2 Dec 15:00</text>
<text x="833.3" y="576" textLength="50.7" lengthAdjust="spacingAndGlyphs">3 Dec 07:00</text>
<text x="897.3" y="576" textLength="50.7" lengthAdjust="spacingAndGlyphs">3 Dec 23:00</text>
<text x="961.3" y="576" textLength="50.7" lengthAdjust="spacingAndGlyphs">4 Dec 15:00</text>
<text x="8" y="14" textLength="54.3" lengthAdjust="spacingAndGlyphs">AUDUSD,H1</text>
<text x="69.6" y="14" textLength="32" lengthAdjust="spacingAndGlyphs">0.74282</text>
<text x="105.8" y="14" textLength="32" lengthAdjust="spacingAndGlyphs">0.74362</text>
<text x="141.4" y="14" textLength="32.2" lengthAdjust="spacingAndGlyphs">0.74280</text>
<text x="177.5" y="14" textLength="32.4" lengthAdjust="spacingAndGlyphs">0.74326</text>
<text x="7.7" y="390" textLength="65" lengthAdjust="spacingAndGlyphs">MACD(12,26,9)</text>
<text x="76.3" y="390" textLength="36.6" lengthAdjust="spacingAndGlyphs">0.000212</text>
<text x="117.9" y="390" textLength="36.8" lengthAdjust="spacingAndGlyphs">0.000205</text>
<text x="161.1" y="390" textLength="36.4" lengthAdjust="spacingAndGlyphs">-&gt;MA(1)</text>
<text x="200.7" y="390" textLength="37" lengthAdjust="spacingAndGlyphs">0.000212</text>
</svg>
</div>
</body></html>
